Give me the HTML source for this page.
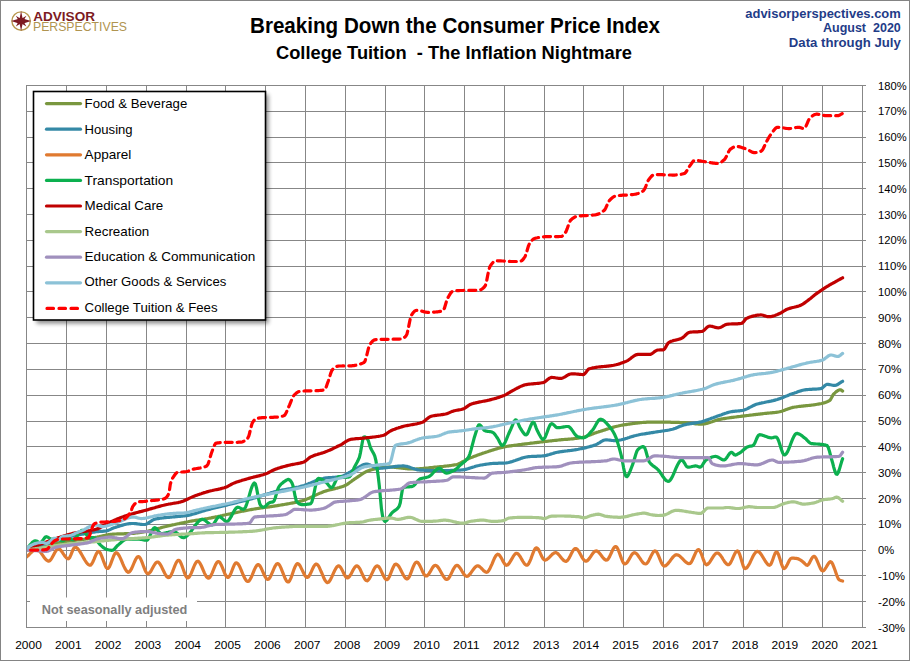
<!DOCTYPE html><html><head><meta charset="utf-8"><style>html,body{margin:0;padding:0;background:#fff}svg{display:block}</style></head><body><svg width="910" height="661" viewBox="0 0 910 661" font-family="Liberation Sans, sans-serif">
<defs><filter id="sh" x="-10%" y="-10%" width="130%" height="130%"><feGaussianBlur stdDeviation="2"/></filter></defs>
<rect x="0.5" y="0.5" width="909" height="660" fill="#fff" stroke="#848484" stroke-width="1"/>
<path d="M26.5 85.0V628.0M66.5 85.0V628.0M106.5 85.0V628.0M146.5 85.0V628.0M186.5 85.0V628.0M225.5 85.0V628.0M265.5 85.0V628.0M305.5 85.0V628.0M345.5 85.0V628.0M385.5 85.0V628.0M424.5 85.0V628.0M464.5 85.0V628.0M504.5 85.0V628.0M544.5 85.0V628.0M583.5 85.0V628.0M623.5 85.0V628.0M663.5 85.0V628.0M703.5 85.0V628.0M743.5 85.0V628.0M782.5 85.0V628.0M822.5 85.0V628.0M862.5 85.0V628.0M26.0 85.5H865.5M26.0 111.5H865.5M26.0 137.5H865.5M26.0 162.5H865.5M26.0 188.5H865.5M26.0 214.5H865.5M26.0 240.5H865.5M26.0 266.5H865.5M26.0 291.5H865.5M26.0 317.5H865.5M26.0 343.5H865.5M26.0 369.5H865.5M26.0 395.5H865.5M26.0 421.5H865.5M26.0 446.5H865.5M26.0 472.5H865.5M26.0 498.5H865.5M26.0 524.5H865.5M26.0 550.5H865.5M26.0 575.5H865.5M26.0 601.5H865.5M26.0 627.5H865.5" stroke="#878787" stroke-width="1" fill="none" shape-rendering="crispEdges"/>
<text x="878.1" y="89.5" font-size="11.3" fill="#000" textLength="28.6" lengthAdjust="spacingAndGlyphs">180%</text>
<text x="878.1" y="115.3" font-size="11.3" fill="#000" textLength="28.6" lengthAdjust="spacingAndGlyphs">170%</text>
<text x="878.1" y="141.1" font-size="11.3" fill="#000" textLength="28.6" lengthAdjust="spacingAndGlyphs">160%</text>
<text x="878.1" y="166.9" font-size="11.3" fill="#000" textLength="28.6" lengthAdjust="spacingAndGlyphs">150%</text>
<text x="878.1" y="192.7" font-size="11.3" fill="#000" textLength="28.6" lengthAdjust="spacingAndGlyphs">140%</text>
<text x="878.1" y="218.5" font-size="11.3" fill="#000" textLength="28.6" lengthAdjust="spacingAndGlyphs">130%</text>
<text x="878.1" y="244.4" font-size="11.3" fill="#000" textLength="28.6" lengthAdjust="spacingAndGlyphs">120%</text>
<text x="878.1" y="270.2" font-size="11.3" fill="#000" textLength="28.6" lengthAdjust="spacingAndGlyphs">110%</text>
<text x="878.1" y="296.0" font-size="11.3" fill="#000" textLength="28.6" lengthAdjust="spacingAndGlyphs">100%</text>
<text x="878.1" y="321.8" font-size="11.3" fill="#000" textLength="23.3" lengthAdjust="spacingAndGlyphs">90%</text>
<text x="878.1" y="347.6" font-size="11.3" fill="#000" textLength="23.3" lengthAdjust="spacingAndGlyphs">80%</text>
<text x="878.1" y="373.4" font-size="11.3" fill="#000" textLength="23.3" lengthAdjust="spacingAndGlyphs">70%</text>
<text x="878.1" y="399.2" font-size="11.3" fill="#000" textLength="23.3" lengthAdjust="spacingAndGlyphs">60%</text>
<text x="878.1" y="425.0" font-size="11.3" fill="#000" textLength="23.3" lengthAdjust="spacingAndGlyphs">50%</text>
<text x="878.1" y="450.8" font-size="11.3" fill="#000" textLength="23.3" lengthAdjust="spacingAndGlyphs">40%</text>
<text x="878.1" y="476.6" font-size="11.3" fill="#000" textLength="23.3" lengthAdjust="spacingAndGlyphs">30%</text>
<text x="878.1" y="502.5" font-size="11.3" fill="#000" textLength="23.3" lengthAdjust="spacingAndGlyphs">20%</text>
<text x="878.1" y="528.3" font-size="11.3" fill="#000" textLength="23.3" lengthAdjust="spacingAndGlyphs">10%</text>
<text x="878.1" y="554.1" font-size="11.3" fill="#000" textLength="16.2" lengthAdjust="spacingAndGlyphs">0%</text>
<text x="878.1" y="579.9" font-size="11.3" fill="#000" textLength="27.0" lengthAdjust="spacingAndGlyphs">-10%</text>
<text x="878.1" y="605.7" font-size="11.3" fill="#000" textLength="27.0" lengthAdjust="spacingAndGlyphs">-20%</text>
<text x="878.1" y="631.5" font-size="11.3" fill="#000" textLength="27.0" lengthAdjust="spacingAndGlyphs">-30%</text>
<text x="15.2" y="648.8" font-size="11.3" fill="#000" textLength="26.6" lengthAdjust="spacingAndGlyphs">2000</text>
<text x="55.0" y="648.8" font-size="11.3" fill="#000" textLength="26.6" lengthAdjust="spacingAndGlyphs">2001</text>
<text x="94.8" y="648.8" font-size="11.3" fill="#000" textLength="26.6" lengthAdjust="spacingAndGlyphs">2002</text>
<text x="134.6" y="648.8" font-size="11.3" fill="#000" textLength="26.6" lengthAdjust="spacingAndGlyphs">2003</text>
<text x="174.4" y="648.8" font-size="11.3" fill="#000" textLength="26.6" lengthAdjust="spacingAndGlyphs">2004</text>
<text x="214.2" y="648.8" font-size="11.3" fill="#000" textLength="26.6" lengthAdjust="spacingAndGlyphs">2005</text>
<text x="254.1" y="648.8" font-size="11.3" fill="#000" textLength="26.6" lengthAdjust="spacingAndGlyphs">2006</text>
<text x="293.9" y="648.8" font-size="11.3" fill="#000" textLength="26.6" lengthAdjust="spacingAndGlyphs">2007</text>
<text x="333.7" y="648.8" font-size="11.3" fill="#000" textLength="26.6" lengthAdjust="spacingAndGlyphs">2008</text>
<text x="373.5" y="648.8" font-size="11.3" fill="#000" textLength="26.6" lengthAdjust="spacingAndGlyphs">2009</text>
<text x="413.3" y="648.8" font-size="11.3" fill="#000" textLength="26.6" lengthAdjust="spacingAndGlyphs">2010</text>
<text x="453.1" y="648.8" font-size="11.3" fill="#000" textLength="26.6" lengthAdjust="spacingAndGlyphs">2011</text>
<text x="492.9" y="648.8" font-size="11.3" fill="#000" textLength="26.6" lengthAdjust="spacingAndGlyphs">2012</text>
<text x="532.7" y="648.8" font-size="11.3" fill="#000" textLength="26.6" lengthAdjust="spacingAndGlyphs">2013</text>
<text x="572.5" y="648.8" font-size="11.3" fill="#000" textLength="26.6" lengthAdjust="spacingAndGlyphs">2014</text>
<text x="612.3" y="648.8" font-size="11.3" fill="#000" textLength="26.6" lengthAdjust="spacingAndGlyphs">2015</text>
<text x="652.2" y="648.8" font-size="11.3" fill="#000" textLength="26.6" lengthAdjust="spacingAndGlyphs">2016</text>
<text x="692.0" y="648.8" font-size="11.3" fill="#000" textLength="26.6" lengthAdjust="spacingAndGlyphs">2017</text>
<text x="731.8" y="648.8" font-size="11.3" fill="#000" textLength="26.6" lengthAdjust="spacingAndGlyphs">2018</text>
<text x="771.6" y="648.8" font-size="11.3" fill="#000" textLength="26.6" lengthAdjust="spacingAndGlyphs">2019</text>
<text x="811.4" y="648.8" font-size="11.3" fill="#000" textLength="26.6" lengthAdjust="spacingAndGlyphs">2020</text>
<text x="851.2" y="648.8" font-size="11.3" fill="#000" textLength="26.6" lengthAdjust="spacingAndGlyphs">2021</text>
<clipPath id="pc"><rect x="27" y="80" width="840" height="550"/></clipPath><g clip-path="url(#pc)"><path d="M26.5 550.1 27.6 549.8 28.7 549.6 29.8 549.3 30.9 549.1 32.0 548.8 33.1 548.6 34.2 548.3 35.3 548.1 36.5 547.8 37.6 547.6 38.7 547.3 39.8 547.1 40.9 546.8 42.0 546.5 43.1 546.3 44.2 546.0 45.3 545.8 46.4 545.5 47.5 545.3 48.6 545.0 49.7 544.8 50.8 544.5 51.9 544.3 53.0 544.0 54.1 543.8 55.3 543.6 56.4 543.3 57.5 543.1 58.6 542.9 59.7 542.7 60.8 542.5 61.9 542.2 63.0 542.0 64.1 541.9 65.2 541.7 66.3 541.5 67.4 541.3 68.5 541.1 69.6 541.0 70.7 540.8 71.8 540.7 72.9 540.5 74.1 540.4 75.2 540.3 76.3 540.2 77.4 540.0 78.5 539.9 79.6 539.8 80.7 539.7 81.8 539.5 82.9 539.4 84.0 539.3 85.1 539.1 86.2 539.0 87.3 538.9 88.4 538.7 89.5 538.6 90.6 538.4 91.7 538.2 92.8 538.0 94.0 537.8 95.1 537.6 96.2 537.3 97.3 537.1 98.4 536.8 99.5 536.6 100.6 536.3 101.7 536.1 102.8 535.8 103.9 535.6 105.0 535.4 106.1 535.1 107.2 534.9 108.3 534.7 109.4 534.6 110.5 534.4 111.6 534.3 112.8 534.2 113.9 534.1 115.0 534.0 116.1 534.0 117.2 533.9 118.3 533.9 119.4 533.9 120.5 533.8 121.6 533.8 122.7 533.8 123.8 533.8 124.9 533.7 126.0 533.7 127.1 533.7 128.2 533.6 129.3 533.6 130.4 533.5 131.6 533.5 132.7 533.4 133.8 533.3 134.9 533.2 136.0 533.0 137.1 532.9 138.2 532.8 139.3 532.6 140.4 532.4 141.5 532.3 142.6 532.1 143.7 531.9 144.8 531.7 145.9 531.6 147.0 531.4 148.1 531.2 149.2 530.9 150.4 530.7 151.5 530.4 152.6 530.1 153.7 529.8 154.8 529.5 155.9 529.2 157.0 528.9 158.1 528.6 159.2 528.3 160.3 528.0 161.4 527.6 162.5 527.3 163.6 527.0 164.7 526.7 165.8 526.5 166.9 526.2 168.0 525.9 169.2 525.7 170.3 525.4 171.4 525.2 172.5 524.9 173.6 524.7 174.7 524.5 175.8 524.2 176.9 524.0 178.0 523.8 179.1 523.6 180.2 523.3 181.3 523.1 182.4 522.9 183.5 522.7 184.6 522.4 185.7 522.2 186.8 522.0 187.9 521.8 189.1 521.5 190.2 521.3 191.3 521.1 192.4 520.9 193.5 520.7 194.6 520.5 195.7 520.3 196.8 520.2 197.9 520.0 199.0 519.9 200.1 519.7 201.2 519.6 202.3 519.4 203.4 519.3 204.5 519.1 205.6 518.9 206.7 518.7 207.9 518.5 209.0 518.3 210.1 518.1 211.2 517.9 212.3 517.6 213.4 517.4 214.5 517.2 215.6 516.9 216.7 516.7 217.8 516.5 218.9 516.2 220.0 516.0 221.1 515.7 222.2 515.5 223.3 515.2 224.4 515.0 225.5 514.8 226.7 514.5 227.8 514.3 228.9 514.1 230.0 513.9 231.1 513.6 232.2 513.4 233.3 513.2 234.4 512.9 235.5 512.7 236.6 512.5 237.7 512.2 238.8 512.0 239.9 511.8 241.0 511.5 242.1 511.3 243.2 511.1 244.3 510.8 245.5 510.6 246.6 510.4 247.7 510.2 248.8 510.0 249.9 509.8 251.0 509.6 252.1 509.4 253.2 509.2 254.3 509.0 255.4 508.8 256.5 508.7 257.6 508.5 258.7 508.3 259.8 508.2 260.9 508.0 262.0 507.9 263.1 507.7 264.3 507.5 265.4 507.4 266.5 507.2 267.6 507.1 268.7 506.9 269.8 506.8 270.9 506.6 272.0 506.4 273.1 506.3 274.2 506.1 275.3 505.9 276.4 505.8 277.5 505.6 278.6 505.4 279.7 505.2 280.8 505.0 281.9 504.8 283.1 504.7 284.2 504.5 285.3 504.3 286.4 504.1 287.5 503.9 288.6 503.7 289.7 503.5 290.8 503.3 291.9 503.1 293.0 502.9 294.1 502.7 295.2 502.4 296.3 502.2 297.4 502.0 298.5 501.7 299.6 501.4 300.7 501.1 301.8 500.9 303.0 500.5 304.1 500.2 305.2 499.8 306.3 499.4 307.4 498.9 308.5 498.4 309.6 498.0 310.7 497.5 311.8 497.0 312.9 496.5 314.0 495.9 315.1 495.4 316.2 494.9 317.3 494.4 318.4 493.9 319.5 493.4 320.6 492.9 321.8 492.5 322.9 492.0 324.0 491.6 325.1 491.2 326.2 490.9 327.3 490.5 328.4 490.2 329.5 489.9 330.6 489.7 331.7 489.4 332.8 489.1 333.9 488.9 335.0 488.6 336.1 488.3 337.2 488.1 338.3 487.8 339.4 487.5 340.6 487.1 341.7 486.8 342.8 486.4 343.9 486.0 345.0 485.5 346.1 485.0 347.2 484.4 348.3 483.6 349.4 482.8 350.5 482.0 351.6 481.2 352.7 480.3 353.8 479.6 354.9 478.8 356.0 478.1 357.1 477.4 358.2 476.6 359.4 475.8 360.5 475.1 361.6 474.3 362.7 473.6 363.8 472.9 364.9 472.3 366.0 471.7 367.1 471.2 368.2 470.8 369.3 470.4 370.4 470.1 371.5 469.8 372.6 469.5 373.7 469.2 374.8 468.9 375.9 468.7 377.0 468.4 378.2 468.2 379.3 467.9 380.4 467.7 381.5 467.5 382.6 467.4 383.7 467.2 384.8 467.1 385.9 467.0 387.0 467.0 388.1 467.0 389.2 467.0 390.3 467.0 391.4 467.1 392.5 467.1 393.6 467.2 394.7 467.3 395.8 467.4 396.9 467.6 398.1 467.7 399.2 467.8 400.3 468.0 401.4 468.1 402.5 468.2 403.6 468.4 404.7 468.5 405.8 468.6 406.9 468.7 408.0 468.8 409.1 468.9 410.2 469.0 411.3 469.0 412.4 469.0 413.5 469.0 414.6 469.0 415.7 469.0 416.9 468.9 418.0 468.9 419.1 468.8 420.2 468.7 421.3 468.6 422.4 468.5 423.5 468.4 424.6 468.3 425.7 468.2 426.8 468.1 427.9 468.0 429.0 467.8 430.1 467.7 431.2 467.6 432.3 467.5 433.4 467.3 434.5 467.2 435.7 467.1 436.8 467.0 437.9 466.9 439.0 466.8 440.1 466.7 441.2 466.6 442.3 466.5 443.4 466.4 444.5 466.2 445.6 466.1 446.7 466.0 447.8 465.9 448.9 465.8 450.0 465.6 451.1 465.5 452.2 465.3 453.3 465.1 454.5 464.9 455.6 464.7 456.7 464.5 457.8 464.2 458.9 463.7 460.0 463.2 461.1 462.6 462.2 462.0 463.3 461.4 464.4 460.8 465.5 460.1 466.6 459.5 467.7 459.0 468.8 458.5 469.9 458.1 471.0 457.6 472.1 457.2 473.3 456.7 474.4 456.3 475.5 455.9 476.6 455.5 477.7 455.1 478.8 454.7 479.9 454.3 481.0 453.9 482.1 453.5 483.2 453.1 484.3 452.8 485.4 452.4 486.5 452.0 487.6 451.7 488.7 451.3 489.8 450.9 490.9 450.6 492.1 450.2 493.2 449.9 494.3 449.5 495.4 449.2 496.5 448.9 497.6 448.5 498.7 448.2 499.8 447.9 500.9 447.6 502.0 447.4 503.1 447.1 504.2 446.9 505.3 446.7 506.4 446.5 507.5 446.3 508.6 446.1 509.7 445.9 510.8 445.8 512.0 445.6 513.1 445.5 514.2 445.3 515.3 445.2 516.4 445.0 517.5 444.9 518.6 444.7 519.7 444.6 520.8 444.5 521.9 444.3 523.0 444.2 524.1 444.1 525.2 443.9 526.3 443.8 527.4 443.7 528.5 443.5 529.6 443.4 530.8 443.2 531.9 443.1 533.0 443.0 534.1 442.8 535.2 442.7 536.3 442.6 537.4 442.4 538.5 442.3 539.6 442.2 540.7 442.0 541.8 441.9 542.9 441.8 544.0 441.6 545.1 441.5 546.2 441.4 547.3 441.3 548.4 441.1 549.6 441.0 550.7 440.9 551.8 440.8 552.9 440.6 554.0 440.5 555.1 440.4 556.2 440.3 557.3 440.2 558.4 440.0 559.5 439.9 560.6 439.8 561.7 439.7 562.8 439.6 563.9 439.5 565.0 439.4 566.1 439.4 567.2 439.3 568.4 439.2 569.5 439.1 570.6 439.0 571.7 438.9 572.8 438.8 573.9 438.7 575.0 438.5 576.1 438.4 577.2 438.3 578.3 438.1 579.4 438.0 580.5 437.8 581.6 437.6 582.7 437.4 583.8 437.1 584.9 436.8 586.0 436.4 587.2 436.0 588.3 435.6 589.4 435.2 590.5 434.8 591.6 434.4 592.7 433.9 593.8 433.5 594.9 433.1 596.0 432.7 597.1 432.3 598.2 432.0 599.3 431.6 600.4 431.3 601.5 430.9 602.6 430.6 603.7 430.2 604.8 429.9 605.9 429.5 607.1 429.1 608.2 428.8 609.3 428.4 610.4 428.1 611.5 427.8 612.6 427.4 613.7 427.1 614.8 426.8 615.9 426.5 617.0 426.2 618.1 426.0 619.2 425.7 620.3 425.5 621.4 425.3 622.5 425.1 623.6 424.9 624.7 424.7 625.9 424.6 627.0 424.4 628.1 424.2 629.2 424.1 630.3 423.9 631.4 423.8 632.5 423.6 633.6 423.5 634.7 423.3 635.8 423.2 636.9 423.1 638.0 422.9 639.1 422.8 640.2 422.7 641.3 422.6 642.4 422.5 643.5 422.4 644.7 422.3 645.8 422.3 646.9 422.2 648.0 422.1 649.1 422.1 650.2 422.1 651.3 422.1 652.4 422.1 653.5 422.1 654.6 422.1 655.7 422.1 656.8 422.1 657.9 422.1 659.0 422.1 660.1 422.1 661.2 422.1 662.3 422.1 663.5 422.1 664.6 422.1 665.7 422.2 666.8 422.2 667.9 422.2 669.0 422.2 670.1 422.2 671.2 422.3 672.3 422.3 673.4 422.3 674.5 422.3 675.6 422.4 676.7 422.4 677.8 422.4 678.9 422.4 680.0 422.5 681.1 422.5 682.3 422.5 683.4 422.6 684.5 422.6 685.6 422.7 686.7 422.8 687.8 422.9 688.9 423.0 690.0 423.1 691.1 423.3 692.2 423.4 693.3 423.5 694.4 423.7 695.5 423.8 696.6 423.9 697.7 424.0 698.8 424.1 699.9 424.1 701.1 424.1 702.2 424.1 703.3 424.0 704.4 423.9 705.5 423.6 706.6 423.4 707.7 423.1 708.8 422.8 709.9 422.4 711.0 422.0 712.1 421.7 713.2 421.3 714.3 420.9 715.4 420.5 716.5 420.2 717.6 419.9 718.7 419.6 719.8 419.3 721.0 419.1 722.1 418.9 723.2 418.7 724.3 418.6 725.4 418.4 726.5 418.2 727.6 418.0 728.7 417.9 729.8 417.7 730.9 417.6 732.0 417.4 733.1 417.3 734.2 417.2 735.3 417.0 736.4 416.9 737.5 416.7 738.6 416.6 739.8 416.5 740.9 416.3 742.0 416.2 743.1 416.1 744.2 415.9 745.3 415.8 746.4 415.6 747.5 415.5 748.6 415.4 749.7 415.2 750.8 415.1 751.9 415.0 753.0 414.8 754.1 414.7 755.2 414.6 756.3 414.4 757.4 414.3 758.6 414.2 759.7 414.1 760.8 413.9 761.9 413.8 763.0 413.7 764.1 413.5 765.2 413.4 766.3 413.3 767.4 413.2 768.5 413.1 769.6 413.0 770.7 412.9 771.8 412.8 772.9 412.7 774.0 412.6 775.1 412.5 776.2 412.3 777.4 412.2 778.5 412.0 779.6 411.8 780.7 411.5 781.8 411.2 782.9 410.8 784.0 410.4 785.1 410.0 786.2 409.6 787.3 409.2 788.4 408.8 789.5 408.4 790.6 408.0 791.7 407.7 792.8 407.4 793.9 407.2 795.0 407.0 796.2 406.9 797.3 406.7 798.4 406.5 799.5 406.4 800.6 406.3 801.7 406.2 802.8 406.1 803.9 405.9 805.0 405.8 806.1 405.7 807.2 405.6 808.3 405.5 809.4 405.4 810.5 405.3 811.6 405.1 812.7 405.0 813.8 404.8 814.9 404.7 816.1 404.5 817.2 404.3 818.3 404.1 819.4 403.9 820.5 403.7 821.6 403.5 822.7 403.2 823.8 402.9 824.9 402.6 826.0 402.2 827.1 401.8 828.2 401.3 829.3 400.7 830.4 399.7 831.5 397.8 832.6 395.7 833.7 393.9 834.9 392.9 836.0 391.9 837.1 391.1 838.2 390.4 839.3 389.9 840.4 389.8 841.5 390.3 842.6 391.1" stroke="#79973f" stroke-width="3.2" stroke-linecap="round" stroke-linejoin="round" fill="none"/>
<path d="M26.5 550.1 27.6 549.7 28.7 549.4 29.8 549.0 30.9 548.6 32.0 548.3 33.1 547.9 34.2 547.5 35.3 547.2 36.5 546.8 37.6 546.5 38.7 546.1 39.8 545.7 40.9 545.4 42.0 545.0 43.1 544.7 44.2 544.3 45.3 544.0 46.4 543.6 47.5 543.3 48.6 542.9 49.7 542.6 50.8 542.2 51.9 541.8 53.0 541.5 54.1 541.1 55.3 540.7 56.4 540.4 57.5 540.0 58.6 539.7 59.7 539.3 60.8 539.0 61.9 538.7 63.0 538.3 64.1 538.0 65.2 537.7 66.3 537.5 67.4 537.2 68.5 536.9 69.6 536.7 70.7 536.4 71.8 536.2 72.9 536.0 74.1 535.8 75.2 535.5 76.3 535.3 77.4 535.1 78.5 534.9 79.6 534.7 80.7 534.5 81.8 534.3 82.9 534.1 84.0 533.9 85.1 533.7 86.2 533.5 87.3 533.3 88.4 533.1 89.5 532.9 90.6 532.7 91.7 532.4 92.8 532.2 94.0 532.1 95.1 531.9 96.2 531.7 97.3 531.6 98.4 531.6 99.5 531.5 100.6 531.4 101.7 531.4 102.8 531.3 103.9 531.2 105.0 531.1 106.1 531.0 107.2 530.7 108.3 530.4 109.4 529.9 110.5 529.4 111.6 528.8 112.8 528.3 113.9 527.8 115.0 527.5 116.1 527.1 117.2 526.8 118.3 526.4 119.4 526.1 120.5 525.7 121.6 525.4 122.7 525.1 123.8 524.8 124.9 524.5 126.0 524.2 127.1 524.0 128.2 523.8 129.3 523.7 130.4 523.6 131.6 523.5 132.7 523.5 133.8 523.5 134.9 523.6 136.0 523.7 137.1 523.8 138.2 524.0 139.3 524.1 140.4 524.3 141.5 524.4 142.6 524.5 143.7 524.5 144.8 524.5 145.9 524.2 147.0 523.8 148.1 523.1 149.2 522.4 150.4 521.6 151.5 520.9 152.6 520.2 153.7 519.6 154.8 519.2 155.9 518.9 157.0 518.7 158.1 518.6 159.2 518.4 160.3 518.2 161.4 518.1 162.5 518.0 163.6 517.8 164.7 517.7 165.8 517.6 166.9 517.5 168.0 517.4 169.2 517.3 170.3 517.2 171.4 517.1 172.5 517.0 173.6 516.9 174.7 516.8 175.8 516.7 176.9 516.6 178.0 516.5 179.1 516.4 180.2 516.3 181.3 516.2 182.4 516.1 183.5 516.0 184.6 515.9 185.7 515.7 186.8 515.6 187.9 515.4 189.1 515.1 190.2 514.9 191.3 514.6 192.4 514.3 193.5 514.0 194.6 513.7 195.7 513.4 196.8 513.0 197.9 512.7 199.0 512.3 200.1 511.9 201.2 511.6 202.3 511.2 203.4 510.9 204.5 510.6 205.6 510.3 206.7 510.0 207.9 509.7 209.0 509.4 210.1 509.1 211.2 508.8 212.3 508.5 213.4 508.3 214.5 508.0 215.6 507.7 216.7 507.5 217.8 507.2 218.9 506.9 220.0 506.7 221.1 506.4 222.2 506.1 223.3 505.9 224.4 505.6 225.5 505.3 226.7 505.1 227.8 504.8 228.9 504.5 230.0 504.2 231.1 504.0 232.2 503.7 233.3 503.4 234.4 503.1 235.5 502.9 236.6 502.6 237.7 502.3 238.8 502.0 239.9 501.8 241.0 501.5 242.1 501.2 243.2 500.9 244.3 500.6 245.5 500.4 246.6 500.1 247.7 499.8 248.8 499.5 249.9 499.2 251.0 498.9 252.1 498.6 253.2 498.3 254.3 498.0 255.4 497.7 256.5 497.3 257.6 497.0 258.7 496.6 259.8 496.3 260.9 496.0 262.0 495.6 263.1 495.2 264.3 494.9 265.4 494.5 266.5 494.2 267.6 493.9 268.7 493.5 269.8 493.2 270.9 492.8 272.0 492.5 273.1 492.2 274.2 491.9 275.3 491.6 276.4 491.3 277.5 491.1 278.6 490.8 279.7 490.6 280.8 490.4 281.9 490.1 283.1 489.9 284.2 489.7 285.3 489.5 286.4 489.3 287.5 489.1 288.6 488.9 289.7 488.7 290.8 488.5 291.9 488.3 293.0 488.1 294.1 487.9 295.2 487.7 296.3 487.4 297.4 487.2 298.5 487.0 299.6 486.7 300.7 486.4 301.8 486.1 303.0 485.8 304.1 485.5 305.2 485.1 306.3 484.7 307.4 484.2 308.5 483.8 309.6 483.3 310.7 482.9 311.8 482.4 312.9 481.9 314.0 481.5 315.1 481.0 316.2 480.6 317.3 480.1 318.4 479.7 319.5 479.4 320.6 479.0 321.8 478.7 322.9 478.5 324.0 478.2 325.1 478.1 326.2 477.9 327.3 477.8 328.4 477.7 329.5 477.6 330.6 477.6 331.7 477.5 332.8 477.4 333.9 477.4 335.0 477.3 336.1 477.2 337.2 477.1 338.3 477.0 339.4 476.8 340.6 476.6 341.7 476.3 342.8 476.0 343.9 475.5 345.0 475.0 346.1 474.4 347.2 473.7 348.3 473.1 349.4 472.4 350.5 471.8 351.6 471.1 352.7 470.5 353.8 469.9 354.9 469.4 356.0 468.8 357.1 468.1 358.2 467.5 359.4 466.8 360.5 466.2 361.6 465.6 362.7 465.0 363.8 464.6 364.9 464.3 366.0 464.1 367.1 464.2 368.2 464.3 369.3 464.7 370.4 465.1 371.5 465.6 372.6 466.2 373.7 466.7 374.8 467.2 375.9 467.7 377.0 468.0 378.2 468.2 379.3 468.3 380.4 468.2 381.5 468.2 382.6 468.1 383.7 468.0 384.8 467.9 385.9 467.8 387.0 467.6 388.1 467.5 389.2 467.3 390.3 467.2 391.4 467.0 392.5 466.9 393.6 466.7 394.7 466.6 395.8 466.4 396.9 466.3 398.1 466.2 399.2 466.1 400.3 466.0 401.4 466.0 402.5 465.9 403.6 465.9 404.7 466.0 405.8 466.2 406.9 466.4 408.0 466.7 409.1 467.1 410.2 467.5 411.3 467.9 412.4 468.3 413.5 468.6 414.6 469.0 415.7 469.3 416.9 469.6 418.0 469.9 419.1 470.0 420.2 470.1 421.3 470.1 422.4 470.2 423.5 470.2 424.6 470.3 425.7 470.3 426.8 470.3 427.9 470.4 429.0 470.4 430.1 470.4 431.2 470.5 432.3 470.5 433.4 470.5 434.5 470.5 435.7 470.5 436.8 470.5 437.9 470.6 439.0 470.6 440.1 470.6 441.2 470.6 442.3 470.6 443.4 470.6 444.5 470.6 445.6 470.6 446.7 470.5 447.8 470.5 448.9 470.5 450.0 470.5 451.1 470.4 452.2 470.4 453.3 470.4 454.5 470.3 455.6 470.3 456.7 470.2 457.8 470.2 458.9 470.2 460.0 470.1 461.1 470.0 462.2 469.9 463.3 469.8 464.4 469.6 465.5 469.4 466.6 469.1 467.7 468.8 468.8 468.4 469.9 468.1 471.0 467.7 472.1 467.4 473.3 467.0 474.4 466.7 475.5 466.3 476.6 466.0 477.7 465.7 478.8 465.5 479.9 465.2 481.0 465.0 482.1 464.9 483.2 464.7 484.3 464.5 485.4 464.3 486.5 464.2 487.6 464.0 488.7 463.9 489.8 463.7 490.9 463.6 492.1 463.5 493.2 463.4 494.3 463.4 495.4 463.3 496.5 463.3 497.6 463.3 498.7 463.2 499.8 463.2 500.9 463.2 502.0 463.2 503.1 463.1 504.2 463.1 505.3 463.0 506.4 462.9 507.5 462.7 508.6 462.5 509.7 462.2 510.8 461.9 512.0 461.6 513.1 461.2 514.2 460.8 515.3 460.5 516.4 460.1 517.5 459.7 518.6 459.3 519.7 458.9 520.8 458.5 521.9 458.1 523.0 457.8 524.1 457.5 525.2 457.2 526.3 457.0 527.4 456.8 528.5 456.7 529.6 456.6 530.8 456.5 531.9 456.4 533.0 456.4 534.1 456.3 535.2 456.3 536.3 456.3 537.4 456.2 538.5 456.2 539.6 456.1 540.7 456.1 541.8 456.0 542.9 455.9 544.0 455.8 545.1 455.6 546.2 455.4 547.3 455.1 548.4 454.8 549.6 454.5 550.7 454.1 551.8 453.8 552.9 453.5 554.0 453.1 555.1 452.8 556.2 452.5 557.3 452.3 558.4 452.1 559.5 451.9 560.6 451.7 561.7 451.6 562.8 451.4 563.9 451.3 565.0 451.1 566.1 451.0 567.2 450.9 568.4 450.7 569.5 450.6 570.6 450.5 571.7 450.3 572.8 450.2 573.9 450.0 575.0 449.8 576.1 449.7 577.2 449.5 578.3 449.3 579.4 449.0 580.5 448.8 581.6 448.6 582.7 448.4 583.8 448.1 584.9 447.9 586.0 447.6 587.2 447.3 588.3 447.0 589.4 446.7 590.5 446.4 591.6 446.1 592.7 445.8 593.8 445.4 594.9 445.1 596.0 444.6 597.1 444.1 598.2 443.4 599.3 442.8 600.4 442.1 601.5 441.4 602.6 440.8 603.7 440.3 604.8 440.0 605.9 439.9 607.1 439.9 608.2 440.0 609.3 440.1 610.4 440.2 611.5 440.4 612.6 440.5 613.7 440.6 614.8 440.6 615.9 440.6 617.0 440.5 618.1 440.4 619.2 440.2 620.3 440.0 621.4 439.8 622.5 439.5 623.6 439.2 624.7 438.9 625.9 438.5 627.0 438.2 628.1 437.8 629.2 437.5 630.3 437.1 631.4 436.7 632.5 436.4 633.6 436.1 634.7 435.7 635.8 435.5 636.9 435.2 638.0 435.0 639.1 434.7 640.2 434.5 641.3 434.3 642.4 434.1 643.5 434.0 644.7 433.8 645.8 433.6 646.9 433.4 648.0 433.3 649.1 433.1 650.2 432.9 651.3 432.7 652.4 432.6 653.5 432.4 654.6 432.2 655.7 432.0 656.8 431.8 657.9 431.7 659.0 431.5 660.1 431.4 661.2 431.2 662.3 431.0 663.5 430.9 664.6 430.7 665.7 430.5 666.8 430.4 667.9 430.2 669.0 430.0 670.1 429.7 671.2 429.5 672.3 429.3 673.4 429.0 674.5 428.6 675.6 428.2 676.7 427.7 677.8 427.3 678.9 426.8 680.0 426.3 681.1 425.9 682.3 425.5 683.4 425.1 684.5 424.8 685.6 424.6 686.7 424.3 687.8 424.1 688.9 423.9 690.0 423.8 691.1 423.6 692.2 423.4 693.3 423.2 694.4 423.1 695.5 422.9 696.6 422.7 697.7 422.5 698.8 422.3 699.9 422.1 701.1 421.9 702.2 421.6 703.3 421.2 704.4 420.9 705.5 420.5 706.6 420.1 707.7 419.7 708.8 419.3 709.9 418.9 711.0 418.4 712.1 418.0 713.2 417.7 714.3 417.3 715.4 416.9 716.5 416.5 717.6 416.1 718.7 415.7 719.8 415.3 721.0 414.9 722.1 414.5 723.2 414.1 724.3 413.7 725.4 413.3 726.5 413.0 727.6 412.6 728.7 412.3 729.8 412.0 730.9 411.8 732.0 411.6 733.1 411.4 734.2 411.3 735.3 411.2 736.4 411.1 737.5 411.0 738.6 410.9 739.8 410.8 740.9 410.6 742.0 410.5 743.1 410.3 744.2 410.0 745.3 409.6 746.4 409.1 747.5 408.6 748.6 408.0 749.7 407.4 750.8 406.9 751.9 406.3 753.0 405.7 754.1 405.2 755.2 404.7 756.3 404.3 757.4 404.0 758.6 403.7 759.7 403.4 760.8 403.2 761.9 402.9 763.0 402.7 764.1 402.5 765.2 402.2 766.3 402.0 767.4 401.8 768.5 401.6 769.6 401.4 770.7 401.2 771.8 400.9 772.9 400.7 774.0 400.4 775.1 400.1 776.2 399.8 777.4 399.5 778.5 399.1 779.6 398.7 780.7 398.3 781.8 397.9 782.9 397.5 784.0 397.0 785.1 396.6 786.2 396.1 787.3 395.7 788.4 395.2 789.5 394.8 790.6 394.3 791.7 393.9 792.8 393.5 793.9 393.2 795.0 392.8 796.2 392.4 797.3 392.0 798.4 391.6 799.5 391.2 800.6 390.9 801.7 390.5 802.8 390.2 803.9 390.0 805.0 389.8 806.1 389.7 807.2 389.6 808.3 389.5 809.4 389.4 810.5 389.3 811.6 389.3 812.7 389.2 813.8 389.2 814.9 389.1 816.1 389.1 817.2 389.0 818.3 388.9 819.4 388.8 820.5 388.6 821.6 388.4 822.7 387.6 823.8 386.6 824.9 385.5 826.0 384.7 827.1 384.4 828.2 384.4 829.3 384.6 830.4 384.8 831.5 385.0 832.6 385.2 833.7 385.4 834.9 385.4 836.0 385.2 837.1 384.8 838.2 384.1 839.3 383.4 840.4 382.7 841.5 381.9 842.6 381.3" stroke="#3489a6" stroke-width="3.2" stroke-linecap="round" stroke-linejoin="round" fill="none"/>
<path d="M26.5 557.0 27.6 556.1 28.7 555.0 29.8 553.9 30.9 552.7 32.0 551.7 33.1 550.7 34.2 550.0 35.3 549.5 36.5 549.3 37.6 549.6 38.7 550.3 39.8 551.4 40.9 552.8 42.0 554.3 43.1 555.9 44.2 557.5 45.3 558.9 46.4 560.0 47.5 560.8 48.6 561.2 49.7 560.8 50.8 559.7 51.9 558.0 53.0 556.0 54.1 553.9 55.3 551.8 56.4 550.2 57.5 549.1 58.6 548.8 59.7 549.3 60.8 550.3 61.9 551.7 63.0 553.3 64.1 555.0 65.2 556.5 66.3 557.8 67.4 558.6 68.5 558.8 69.6 557.7 70.7 555.4 71.8 552.6 72.9 549.9 74.1 547.9 75.2 547.2 76.3 547.6 77.4 548.4 78.5 549.6 79.6 551.1 80.7 552.9 81.8 554.8 82.9 556.7 84.0 558.7 85.1 560.5 86.2 562.2 87.3 563.6 88.4 564.6 89.5 565.2 90.6 565.2 91.7 564.0 92.8 562.0 94.0 559.4 95.1 556.6 96.2 554.1 97.3 552.2 98.4 551.4 99.5 551.9 100.6 553.5 101.7 556.1 102.8 559.1 103.9 562.2 105.0 565.0 106.1 567.3 107.2 568.5 108.3 568.4 109.4 566.9 110.5 564.4 111.6 561.4 112.8 558.2 113.9 555.4 115.0 553.4 116.1 552.7 117.2 553.1 118.3 554.3 119.4 556.1 120.5 558.4 121.6 560.9 122.7 563.6 123.8 566.1 124.9 568.4 126.0 570.3 127.1 571.7 128.2 572.3 129.3 571.9 130.4 570.6 131.6 568.6 132.7 566.1 133.8 563.5 134.9 561.0 136.0 558.8 137.1 557.2 138.2 556.5 139.3 557.0 140.4 558.5 141.5 560.9 142.6 563.7 143.7 566.7 144.8 569.5 145.9 571.9 147.0 573.4 148.1 573.8 149.2 573.2 150.4 571.9 151.5 570.1 152.6 568.1 153.7 566.1 154.8 564.2 155.9 562.8 157.0 562.0 158.1 562.1 159.2 563.0 160.3 564.5 161.4 566.4 162.5 568.7 163.6 571.0 164.7 573.3 165.8 575.2 166.9 576.7 168.0 577.6 169.2 577.5 170.3 576.4 171.4 574.4 172.5 571.8 173.6 569.0 174.7 566.1 175.8 563.5 176.9 561.5 178.0 560.3 179.1 560.3 180.2 561.6 181.3 564.0 182.4 566.9 183.5 570.1 184.6 573.2 185.7 575.8 186.8 577.5 187.9 577.9 189.1 577.1 190.2 575.4 191.3 573.1 192.4 570.4 193.5 567.6 194.6 565.0 195.7 562.9 196.8 561.5 197.9 561.2 199.0 561.9 200.1 563.4 201.2 565.5 202.3 568.0 203.4 570.6 204.5 573.1 205.6 575.4 206.7 577.1 207.9 578.1 209.0 578.1 210.1 577.0 211.2 575.1 212.3 572.6 213.4 569.9 214.5 567.1 215.6 564.6 216.7 562.7 217.8 561.6 218.9 561.6 220.0 562.7 221.1 564.7 222.2 567.2 223.3 569.9 224.4 572.7 225.5 575.0 226.7 576.8 227.8 577.5 228.9 577.0 230.0 575.3 231.1 572.8 232.2 570.0 233.3 567.1 234.4 564.7 235.5 563.1 236.6 562.8 237.7 563.5 238.8 565.0 239.9 567.1 241.0 569.6 242.1 572.3 243.2 575.0 244.3 577.4 245.5 579.5 246.6 580.9 247.7 581.5 248.8 581.2 249.9 579.8 251.0 577.8 252.1 575.3 253.2 572.6 254.3 569.9 255.4 567.6 256.5 565.7 257.6 564.7 258.7 564.7 259.8 565.7 260.9 567.5 262.0 569.9 263.1 572.4 264.3 575.0 265.4 577.2 266.5 578.8 267.6 579.5 268.7 579.1 269.8 577.8 270.9 575.7 272.0 573.2 273.1 570.6 274.2 568.0 275.3 565.8 276.4 564.2 277.5 563.5 278.6 563.9 279.7 565.4 280.8 567.6 281.9 570.3 283.1 573.3 284.2 576.2 285.3 578.8 286.4 580.8 287.5 581.9 288.6 581.9 289.7 580.6 290.8 578.4 291.9 575.5 293.0 572.3 294.1 569.1 295.2 566.4 296.3 564.4 297.4 563.5 298.5 563.9 299.6 565.1 300.7 567.1 301.8 569.4 303.0 571.8 304.1 574.1 305.2 576.0 306.3 577.2 307.4 577.5 308.5 576.8 309.6 575.2 310.7 573.1 311.8 570.6 312.9 568.2 314.0 566.1 315.1 564.6 316.2 564.0 317.3 564.4 318.4 565.8 319.5 567.8 320.6 570.3 321.8 573.0 322.9 575.7 324.0 578.3 325.1 580.4 326.2 581.9 327.3 582.6 328.4 582.3 329.5 581.1 330.6 579.3 331.7 577.1 332.8 574.7 333.9 572.2 335.0 569.9 336.1 567.9 337.2 566.5 338.3 565.8 339.4 566.1 340.6 567.3 341.7 569.2 342.8 571.4 343.9 573.7 345.0 575.7 346.1 577.2 347.2 577.9 348.3 577.6 349.4 576.5 350.5 574.9 351.6 572.9 352.7 570.8 353.8 568.8 354.9 567.2 356.0 566.1 357.1 565.8 358.2 566.5 359.4 568.1 360.5 570.1 361.6 572.6 362.7 575.0 363.8 577.3 364.9 579.2 366.0 580.5 367.1 580.8 368.2 580.1 369.3 578.7 370.4 576.7 371.5 574.4 372.6 572.1 373.7 569.8 374.8 567.8 375.9 566.4 377.0 565.8 378.2 566.2 379.3 567.4 380.4 569.3 381.5 571.6 382.6 574.0 383.7 576.3 384.8 578.2 385.9 579.4 387.0 579.7 388.1 578.9 389.2 577.0 390.3 574.5 391.4 571.7 392.5 568.9 393.6 566.5 394.7 564.7 395.8 564.0 396.9 564.4 398.1 565.4 399.2 567.0 400.3 569.0 401.4 571.2 402.5 573.4 403.6 575.5 404.7 577.2 405.8 578.4 406.9 579.0 408.0 578.5 409.1 577.0 410.2 574.7 411.3 571.9 412.4 568.9 413.5 566.2 414.6 563.9 415.7 562.4 416.9 562.0 418.0 562.7 419.1 564.2 420.2 566.3 421.3 568.7 422.4 571.2 423.5 573.4 424.6 575.1 425.7 576.0 426.8 576.0 427.9 575.1 429.0 573.7 430.1 571.9 431.2 569.9 432.3 568.0 433.4 566.5 434.5 565.5 435.7 565.3 436.8 565.9 437.9 567.0 439.0 568.6 440.1 570.5 441.2 572.5 442.3 574.5 443.4 576.4 444.5 577.9 445.6 579.0 446.7 579.5 447.8 579.1 448.9 578.0 450.0 576.1 451.1 573.9 452.2 571.6 453.3 569.3 454.5 567.4 455.6 565.9 456.7 565.3 457.8 565.6 458.9 566.5 460.0 567.9 461.1 569.6 462.2 571.5 463.3 573.3 464.4 574.8 465.5 575.9 466.6 576.4 467.7 576.2 468.8 575.4 469.9 574.2 471.0 572.7 472.1 571.1 473.3 569.5 474.4 568.1 475.5 566.8 476.6 566.1 477.7 565.8 478.8 566.1 479.9 566.9 481.0 567.9 482.1 569.0 483.2 570.2 484.3 571.2 485.4 571.9 486.5 572.3 487.6 571.9 488.7 570.7 489.8 568.8 490.9 566.4 492.1 563.8 493.2 561.1 494.3 558.6 495.4 556.5 496.5 555.0 497.6 554.2 498.7 554.5 499.8 555.6 500.9 557.3 502.0 559.3 503.1 561.4 504.2 563.3 505.3 564.7 506.4 565.3 507.5 565.0 508.6 564.0 509.7 562.5 510.8 560.6 512.0 558.6 513.1 556.7 514.2 555.0 515.3 553.8 516.4 553.3 517.5 553.6 518.6 554.5 519.7 555.9 520.8 557.7 521.9 559.6 523.0 561.5 524.1 563.2 525.2 564.5 526.3 565.2 527.4 565.1 528.5 563.9 529.6 561.8 530.8 559.1 531.9 556.0 533.0 553.1 534.1 550.5 535.2 548.6 536.3 547.8 537.4 548.2 538.5 549.6 539.6 551.7 540.7 554.1 541.8 556.5 542.9 558.5 544.0 559.8 545.1 560.1 546.2 559.8 547.3 559.1 548.4 558.2 549.6 557.1 550.7 555.9 551.8 554.8 552.9 553.8 554.0 553.1 555.1 552.7 556.2 552.7 557.3 553.3 558.4 554.3 559.5 555.5 560.6 556.9 561.7 558.3 562.8 559.5 563.9 560.6 565.0 561.2 566.1 561.4 567.2 560.7 568.4 559.3 569.5 557.4 570.6 555.2 571.7 552.9 572.8 550.9 573.9 549.4 575.0 548.5 576.1 548.5 577.2 549.3 578.3 550.7 579.4 552.5 580.5 554.5 581.6 556.6 582.7 558.4 583.8 559.9 584.9 560.9 586.0 561.2 587.2 560.7 588.3 559.7 589.4 558.4 590.5 556.8 591.6 555.2 592.7 553.6 593.8 552.2 594.9 551.3 596.0 550.9 597.1 551.1 598.2 551.8 599.3 552.9 600.4 554.3 601.5 555.7 602.6 557.2 603.7 558.5 604.8 559.5 605.9 560.1 607.1 560.0 608.2 559.0 609.3 557.2 610.4 554.9 611.5 552.5 612.6 550.1 613.7 548.1 614.8 546.8 615.9 546.5 617.0 547.5 618.1 549.5 619.2 552.3 620.3 555.4 621.4 558.5 622.5 561.2 623.6 563.2 624.7 564.0 625.9 563.6 627.0 562.6 628.1 561.0 629.2 559.1 630.3 557.2 631.4 555.3 632.5 553.8 633.6 552.9 634.7 552.7 635.8 553.2 636.9 554.1 638.0 555.5 639.1 557.1 640.2 558.7 641.3 560.4 642.4 561.9 643.5 563.1 644.7 563.8 645.8 564.0 646.9 563.3 648.0 561.9 649.1 559.9 650.2 557.7 651.3 555.4 652.4 553.4 653.5 551.8 654.6 550.9 655.7 551.0 656.8 552.3 657.9 554.3 659.0 556.9 660.1 559.6 661.2 562.2 662.3 564.4 663.5 565.7 664.6 566.1 665.7 565.7 666.8 564.8 667.9 563.7 669.0 562.3 670.1 560.9 671.2 559.3 672.3 557.9 673.4 556.6 674.5 555.6 675.6 554.9 676.7 554.7 677.8 555.0 678.9 555.5 680.0 556.3 681.1 557.4 682.3 558.5 683.4 559.7 684.5 560.8 685.6 561.9 686.7 562.7 687.8 563.4 688.9 563.7 690.0 563.5 691.1 562.4 692.2 560.4 693.3 558.0 694.4 555.5 695.5 553.1 696.6 551.1 697.7 549.8 698.8 549.6 699.9 550.9 701.1 553.3 702.2 556.3 703.3 559.4 704.4 562.2 705.5 564.2 706.6 564.8 707.7 564.3 708.8 563.3 709.9 561.9 711.0 560.2 712.1 558.4 713.2 556.6 714.3 555.0 715.4 553.8 716.5 553.0 717.6 553.0 718.7 553.5 719.8 554.6 721.0 556.1 722.1 557.7 723.2 559.5 724.3 561.2 725.4 562.7 726.5 563.9 727.6 564.6 728.7 564.7 729.8 563.8 730.9 562.1 732.0 559.9 733.1 557.4 734.2 554.9 735.3 552.8 736.4 551.4 737.5 550.8 738.6 552.0 739.8 554.7 740.9 558.3 742.0 562.1 743.1 565.6 744.2 568.0 745.3 568.6 746.4 568.1 747.5 566.9 748.6 565.2 749.7 563.2 750.8 560.9 751.9 558.6 753.0 556.3 754.1 554.4 755.2 552.8 756.3 551.7 757.4 551.4 758.6 551.7 759.7 552.6 760.8 553.9 761.9 555.5 763.0 557.3 764.1 559.2 765.2 561.0 766.3 562.6 767.4 564.0 768.5 564.9 769.6 565.3 770.7 564.5 771.8 562.3 772.9 559.2 774.0 556.0 775.1 553.3 776.2 551.9 777.4 552.5 778.5 554.6 779.6 557.9 780.7 561.5 781.8 564.9 782.9 567.5 784.0 568.6 785.1 568.1 786.2 566.6 787.3 564.5 788.4 562.2 789.5 560.1 790.6 558.6 791.7 558.1 792.8 558.1 793.9 558.2 795.0 558.3 796.2 558.4 797.3 558.6 798.4 558.9 799.5 559.5 800.6 560.2 801.7 560.9 802.8 561.7 803.9 562.7 805.0 563.9 806.1 564.9 807.2 565.3 808.3 564.6 809.4 563.0 810.5 560.8 811.6 558.7 812.7 557.0 813.8 556.3 814.9 556.8 816.1 558.4 817.2 560.8 818.3 563.5 819.4 566.2 820.5 568.6 821.6 570.3 822.7 571.0 823.8 570.5 824.9 569.2 826.0 567.5 827.1 565.6 828.2 563.8 829.3 562.4 830.4 561.7 831.5 562.2 832.6 563.9 833.7 566.6 834.9 569.8 836.0 573.1 837.1 576.2 838.2 578.6 839.3 579.9 840.4 580.4 841.5 580.7 842.6 581.0" stroke="#e07a30" stroke-width="3.2" stroke-linecap="round" stroke-linejoin="round" fill="none"/>
<path d="M26.5 548.8 27.6 547.7 28.7 546.5 29.8 545.2 30.9 544.0 32.0 542.8 33.1 541.8 34.2 541.1 35.3 540.8 36.5 541.0 37.6 541.6 38.7 542.4 39.8 542.8 40.9 542.5 42.0 541.5 43.1 539.9 44.2 538.4 45.3 537.1 46.4 536.7 47.5 537.0 48.6 537.7 49.7 538.5 50.8 539.1 51.9 539.2 53.0 539.1 54.1 538.9 55.3 538.8 56.4 538.7 57.5 539.0 58.6 539.5 59.7 540.0 60.8 540.5 61.9 540.8 63.0 540.7 64.1 540.2 65.2 539.6 66.3 539.0 67.4 538.7 68.5 538.8 69.6 539.0 70.7 539.2 71.8 539.5 72.9 539.7 74.1 539.7 75.2 538.9 76.3 537.3 77.4 535.5 78.5 534.1 79.6 532.6 80.7 531.2 81.8 530.3 82.9 530.4 84.0 531.5 85.1 533.0 86.2 534.3 87.3 535.6 88.4 536.9 89.5 537.6 90.6 537.7 91.7 537.7 92.8 537.7 94.0 537.7 95.1 538.0 96.2 539.3 97.3 541.0 98.4 542.7 99.5 544.0 100.6 545.1 101.7 546.1 102.8 547.1 103.9 547.9 105.0 548.6 106.1 549.2 107.2 549.5 108.3 549.8 109.4 550.0 110.5 550.2 111.6 550.3 112.8 550.2 113.9 549.5 115.0 548.4 116.1 547.1 117.2 545.8 118.3 544.9 119.4 543.9 120.5 543.0 121.6 542.0 122.7 541.1 123.8 540.3 124.9 539.7 126.0 539.3 127.1 539.2 128.2 539.2 129.3 539.2 130.4 539.2 131.6 539.2 132.7 539.2 133.8 539.2 134.9 539.2 136.0 539.2 137.1 539.2 138.2 539.2 139.3 539.2 140.4 539.3 141.5 539.5 142.6 539.7 143.7 539.9 144.8 540.1 145.9 540.2 147.0 540.2 148.1 539.2 149.2 537.3 150.4 534.8 151.5 532.2 152.6 529.8 153.7 528.2 154.8 527.6 155.9 528.2 157.0 529.4 158.1 530.9 159.2 532.3 160.3 533.3 161.4 533.5 162.5 533.5 163.6 533.3 164.7 533.1 165.8 532.9 166.9 532.6 168.0 532.4 169.2 532.1 170.3 531.9 171.4 531.7 172.5 531.6 173.6 531.5 174.7 531.6 175.8 532.2 176.9 533.0 178.0 534.0 179.1 535.1 180.2 536.1 181.3 537.0 182.4 537.5 183.5 537.7 184.6 537.4 185.7 536.8 186.8 536.0 187.9 534.9 189.1 533.7 190.2 532.4 191.3 531.0 192.4 529.4 193.5 527.7 194.6 526.2 195.7 524.8 196.8 523.4 197.9 522.1 199.0 521.1 200.1 520.2 201.2 519.6 202.3 519.4 203.4 519.5 204.5 520.0 205.6 520.8 206.7 521.8 207.9 522.7 209.0 523.7 210.1 524.4 211.2 524.9 212.3 525.0 213.4 524.2 214.5 522.8 215.6 520.9 216.7 519.1 217.8 517.6 218.9 516.8 220.0 516.9 221.1 517.5 222.2 518.4 223.3 519.4 224.4 520.4 225.5 521.1 226.7 521.4 227.8 521.1 228.9 520.1 230.0 518.5 231.1 516.7 232.2 514.6 233.3 512.5 234.4 510.5 235.5 508.9 236.6 507.7 237.7 507.2 238.8 507.4 239.9 507.9 241.0 508.5 242.1 509.0 243.2 509.3 244.3 508.8 245.5 507.1 246.6 504.3 247.7 500.9 248.8 497.1 249.9 493.2 251.0 489.5 252.1 486.4 253.2 484.1 254.3 483.0 255.4 484.0 256.5 487.9 257.6 493.6 258.7 499.4 259.8 503.9 260.9 505.8 262.0 506.7 263.1 507.2 264.3 507.0 265.4 506.3 266.5 505.2 267.6 504.1 268.7 503.2 269.8 502.6 270.9 502.3 272.0 502.1 273.1 501.9 274.2 500.7 275.3 497.8 276.4 493.9 277.5 490.1 278.6 487.3 279.7 485.7 280.8 484.4 281.9 483.4 283.1 482.4 284.2 481.6 285.3 480.9 286.4 480.1 287.5 479.6 288.6 479.4 289.7 479.9 290.8 481.1 291.9 482.8 293.0 485.8 294.1 491.1 295.2 496.7 296.3 500.9 297.4 502.4 298.5 503.4 299.6 504.1 300.7 504.5 301.8 504.6 303.0 504.6 304.1 504.6 305.2 504.5 306.3 504.4 307.4 504.2 308.5 504.1 309.6 503.9 310.7 503.6 311.8 502.1 312.9 498.3 314.0 493.3 315.1 487.8 316.2 482.9 317.3 479.4 318.4 478.3 319.5 478.5 320.6 478.9 321.8 479.4 322.9 480.1 324.0 480.9 325.1 481.6 326.2 482.4 327.3 483.6 328.4 485.0 329.5 486.4 330.6 487.4 331.7 487.6 332.8 486.7 333.9 484.8 335.0 482.5 336.1 480.1 337.2 478.1 338.3 476.8 339.4 476.5 340.6 476.7 341.7 477.0 342.8 477.3 343.9 477.5 345.0 477.5 346.1 477.5 347.2 477.3 348.3 477.1 349.4 476.8 350.5 475.7 351.6 473.7 352.7 471.1 353.8 468.5 354.9 466.2 356.0 464.2 357.1 462.3 358.2 460.0 359.4 457.3 360.5 452.6 361.6 446.2 362.7 440.3 363.8 437.0 364.9 436.9 366.0 437.6 367.1 438.7 368.2 440.3 369.3 443.9 370.4 447.5 371.5 449.8 372.6 451.7 373.7 453.6 374.8 456.2 375.9 460.5 377.0 467.6 378.2 476.3 379.3 485.6 380.4 497.7 381.5 509.3 382.6 516.2 383.7 519.8 384.8 521.4 385.9 521.0 387.0 520.0 388.1 518.5 389.2 516.8 390.3 515.1 391.4 513.5 392.5 512.3 393.6 511.4 394.7 510.6 395.8 509.9 396.9 509.0 398.1 507.8 399.2 506.3 400.3 502.8 401.4 495.5 402.5 489.0 403.6 487.5 404.7 487.2 405.8 487.1 406.9 487.0 408.0 486.9 409.1 486.8 410.2 486.7 411.3 486.6 412.4 486.4 413.5 485.9 414.6 484.9 415.7 483.5 416.9 482.0 418.0 480.6 419.1 479.6 420.2 478.9 421.3 478.6 422.4 478.3 423.5 478.0 424.6 477.8 425.7 477.6 426.8 477.3 427.9 477.0 429.0 476.6 430.1 475.8 431.2 474.9 432.3 473.8 433.4 472.5 434.5 471.3 435.7 470.2 436.8 469.3 437.9 468.6 439.0 468.3 440.1 468.4 441.2 469.1 442.3 470.1 443.4 471.2 444.5 472.2 445.6 473.0 446.7 473.2 447.8 473.0 448.9 472.7 450.0 472.3 451.1 471.8 452.2 471.3 453.3 470.7 454.5 470.1 455.6 469.4 456.7 468.5 457.8 467.5 458.9 466.4 460.0 465.4 461.1 464.4 462.2 463.5 463.3 462.6 464.4 461.8 465.5 460.8 466.6 459.7 467.7 458.4 468.8 456.6 469.9 453.8 471.0 450.1 472.1 445.9 473.3 441.4 474.4 437.2 475.5 433.7 476.6 430.2 477.7 426.8 478.8 424.8 479.9 424.9 481.0 425.9 482.1 427.5 483.2 429.1 484.3 430.3 485.4 430.9 486.5 431.2 487.6 431.3 488.7 431.5 489.8 431.6 490.9 431.8 492.1 432.1 493.2 432.6 494.3 433.7 495.4 435.1 496.5 436.7 497.6 438.2 498.7 440.2 499.8 442.5 500.9 444.5 502.0 445.5 503.1 445.2 504.2 443.9 505.3 441.9 506.4 439.4 507.5 436.7 508.6 434.0 509.7 431.5 510.8 429.2 512.0 426.4 513.1 423.6 514.2 421.3 515.3 419.9 516.4 420.1 517.5 421.9 518.6 424.5 519.7 427.0 520.8 428.8 521.9 430.6 523.0 432.3 524.1 433.7 525.2 434.7 526.3 434.9 527.4 433.8 528.5 431.5 529.6 428.6 530.8 425.7 531.9 423.4 533.0 422.1 534.1 422.7 535.2 425.2 536.3 428.3 537.4 430.8 538.5 432.9 539.6 435.1 540.7 437.1 541.8 438.6 542.9 439.3 544.0 438.9 545.1 437.3 546.2 434.7 547.3 431.7 548.4 428.6 549.6 425.9 550.7 424.1 551.8 423.6 552.9 424.1 554.0 425.1 555.1 426.2 556.2 427.2 557.3 427.7 558.4 427.7 559.5 427.6 560.6 427.5 561.7 427.3 562.8 427.1 563.9 426.9 565.0 426.7 566.1 426.5 567.2 426.5 568.4 426.5 569.5 427.1 570.6 428.2 571.7 429.6 572.8 431.2 573.9 432.8 575.0 434.4 576.1 435.6 577.2 436.4 578.3 436.8 579.4 437.1 580.5 437.4 581.6 437.6 582.7 437.8 583.8 437.8 584.9 437.5 586.0 436.8 587.2 435.9 588.3 434.9 589.4 433.7 590.5 432.4 591.6 431.2 592.7 430.0 593.8 428.4 594.9 426.5 596.0 424.5 597.1 422.6 598.2 420.9 599.3 419.7 600.4 419.2 601.5 419.4 602.6 419.8 603.7 420.6 604.8 421.5 605.9 422.7 607.1 423.9 608.2 425.2 609.3 426.4 610.4 427.7 611.5 429.1 612.6 430.8 613.7 432.7 614.8 434.8 615.9 437.3 617.0 440.5 618.1 444.1 619.2 447.9 620.3 451.9 621.4 456.1 622.5 461.7 623.6 467.8 624.7 473.0 625.9 476.3 627.0 476.6 628.1 475.4 629.2 473.2 630.3 470.6 631.4 467.7 632.5 464.9 633.6 461.8 634.7 458.0 635.8 454.2 636.9 451.1 638.0 449.4 639.1 448.5 640.2 447.7 641.3 447.1 642.4 446.7 643.5 446.6 644.7 447.8 645.8 450.8 646.9 454.7 648.0 458.6 649.1 461.6 650.2 463.2 651.3 464.3 652.4 465.3 653.5 466.2 654.6 466.9 655.7 467.7 656.8 468.6 657.9 469.6 659.0 470.8 660.1 472.3 661.2 474.0 662.3 475.7 663.5 477.3 664.6 478.8 665.7 480.1 666.8 480.9 667.9 481.4 669.0 481.2 670.1 480.3 671.2 478.8 672.3 476.8 673.4 474.4 674.5 471.9 675.6 469.2 676.7 466.7 677.8 464.4 678.9 462.4 680.0 461.0 681.1 460.1 682.3 460.1 683.4 461.3 684.5 463.1 685.6 465.1 686.7 466.6 687.8 467.2 688.9 467.2 690.0 467.0 691.1 466.8 692.2 466.5 693.3 466.3 694.4 466.1 695.5 465.9 696.6 466.0 697.7 466.4 698.8 466.9 699.9 467.2 701.1 466.8 702.2 465.5 703.3 463.7 704.4 461.9 705.5 460.5 706.6 459.7 707.7 459.0 708.8 458.4 709.9 457.9 711.0 457.4 712.1 457.0 713.2 456.7 714.3 456.5 715.4 456.4 716.5 456.5 717.6 456.9 718.7 457.5 719.8 458.2 721.0 458.9 722.1 459.5 723.2 459.9 724.3 460.0 725.4 459.3 726.5 458.0 727.6 456.4 728.7 454.7 729.8 453.3 730.9 452.4 732.0 452.4 733.1 453.4 734.2 454.7 735.3 455.1 736.4 454.8 737.5 454.2 738.6 453.5 739.8 452.8 740.9 452.1 742.0 451.3 743.1 450.3 744.2 449.3 745.3 448.4 746.4 447.5 747.5 446.9 748.6 446.5 749.7 446.2 750.8 446.1 751.9 445.9 753.0 445.5 754.1 444.4 755.2 442.2 756.3 439.5 757.4 437.0 758.6 435.2 759.7 434.7 760.8 434.8 761.9 435.0 763.0 435.4 764.1 435.8 765.2 436.2 766.3 436.6 767.4 437.0 768.5 437.4 769.6 437.6 770.7 437.8 771.8 437.8 772.9 437.6 774.0 437.3 775.1 437.1 776.2 437.0 777.4 438.1 778.5 440.5 779.6 443.7 780.7 447.3 781.8 450.7 782.9 453.4 784.0 454.9 785.1 454.9 786.2 453.9 787.3 452.2 788.4 449.9 789.5 447.2 790.6 444.3 791.7 441.4 792.8 438.7 793.9 436.4 795.0 434.6 796.2 433.6 797.3 433.4 798.4 433.7 799.5 434.2 800.6 434.8 801.7 435.6 802.8 436.5 803.9 437.4 805.0 438.2 806.1 439.1 807.2 440.3 808.3 441.5 809.4 442.5 810.5 443.3 811.6 443.6 812.7 443.7 813.8 443.8 814.9 443.9 816.1 444.0 817.2 444.0 818.3 444.1 819.4 444.2 820.5 444.3 821.6 444.4 822.7 444.6 823.8 444.7 824.9 444.9 826.0 445.2 827.1 445.6 828.2 447.3 829.3 450.7 830.4 454.9 831.5 459.0 832.6 462.7 833.7 467.1 834.9 471.2 836.0 473.9 837.1 474.3 838.2 472.6 839.3 469.6 840.4 465.9 841.5 462.1 842.6 458.7" stroke="#0cb04f" stroke-width="3.2" stroke-linecap="round" stroke-linejoin="round" fill="none"/>
<path d="M26.5 550.1 27.6 549.6 28.7 549.1 29.8 548.6 30.9 548.2 32.0 547.7 33.1 547.2 34.2 546.7 35.3 546.3 36.5 545.8 37.6 545.4 38.7 545.0 39.8 544.5 40.9 544.1 42.0 543.7 43.1 543.3 44.2 542.9 45.3 542.4 46.4 542.0 47.5 541.6 48.6 541.2 49.7 540.8 50.8 540.4 51.9 540.0 53.0 539.6 54.1 539.2 55.3 538.8 56.4 538.4 57.5 538.0 58.6 537.6 59.7 537.3 60.8 536.9 61.9 536.6 63.0 536.2 64.1 535.9 65.2 535.5 66.3 535.2 67.4 534.9 68.5 534.6 69.6 534.3 70.7 534.0 71.8 533.7 72.9 533.4 74.1 533.2 75.2 532.9 76.3 532.7 77.4 532.5 78.5 532.3 79.6 532.1 80.7 532.0 81.8 531.8 82.9 531.6 84.0 531.5 85.1 531.3 86.2 531.2 87.3 531.0 88.4 530.8 89.5 530.7 90.6 530.5 91.7 530.3 92.8 530.0 94.0 529.8 95.1 529.5 96.2 529.2 97.3 528.9 98.4 528.6 99.5 528.1 100.6 527.4 101.7 526.6 102.8 525.8 103.9 525.2 105.0 524.6 106.1 524.0 107.2 523.5 108.3 522.9 109.4 522.4 110.5 521.9 111.6 521.4 112.8 520.9 113.9 520.4 115.0 519.9 116.1 519.5 117.2 519.0 118.3 518.6 119.4 518.1 120.5 517.7 121.6 517.3 122.7 516.9 123.8 516.5 124.9 516.1 126.0 515.7 127.1 515.4 128.2 515.0 129.3 514.7 130.4 514.4 131.6 514.0 132.7 513.7 133.8 513.4 134.9 513.1 136.0 512.8 137.1 512.5 138.2 512.2 139.3 511.9 140.4 511.6 141.5 511.4 142.6 511.1 143.7 510.8 144.8 510.5 145.9 510.2 147.0 509.9 148.1 509.6 149.2 509.2 150.4 508.9 151.5 508.6 152.6 508.3 153.7 508.0 154.8 507.7 155.9 507.3 157.0 507.0 158.1 506.7 159.2 506.4 160.3 506.1 161.4 505.8 162.5 505.5 163.6 505.3 164.7 505.0 165.8 504.7 166.9 504.5 168.0 504.3 169.2 504.0 170.3 503.9 171.4 503.7 172.5 503.5 173.6 503.3 174.7 503.1 175.8 503.0 176.9 502.8 178.0 502.6 179.1 502.3 180.2 502.1 181.3 501.7 182.4 501.4 183.5 501.0 184.6 500.5 185.7 500.0 186.8 499.5 187.9 499.0 189.1 498.4 190.2 497.9 191.3 497.4 192.4 496.9 193.5 496.4 194.6 496.0 195.7 495.6 196.8 495.2 197.9 494.8 199.0 494.4 200.1 494.0 201.2 493.7 202.3 493.3 203.4 492.9 204.5 492.6 205.6 492.3 206.7 491.9 207.9 491.6 209.0 491.3 210.1 491.0 211.2 490.7 212.3 490.5 213.4 490.2 214.5 490.0 215.6 489.8 216.7 489.6 217.8 489.4 218.9 489.1 220.0 488.9 221.1 488.6 222.2 488.3 223.3 488.0 224.4 487.7 225.5 487.3 226.7 486.9 227.8 486.3 228.9 485.7 230.0 485.1 231.1 484.5 232.2 483.9 233.3 483.4 234.4 482.9 235.5 482.5 236.6 482.1 237.7 481.7 238.8 481.4 239.9 481.0 241.0 480.7 242.1 480.3 243.2 480.0 244.3 479.7 245.5 479.4 246.6 479.0 247.7 478.7 248.8 478.4 249.9 478.1 251.0 477.8 252.1 477.5 253.2 477.2 254.3 476.9 255.4 476.7 256.5 476.4 257.6 476.1 258.7 475.9 259.8 475.6 260.9 475.3 262.0 475.0 263.1 474.7 264.3 474.3 265.4 474.0 266.5 473.6 267.6 473.1 268.7 472.5 269.8 471.9 270.9 471.3 272.0 470.7 273.1 470.2 274.2 469.7 275.3 469.2 276.4 468.9 277.5 468.5 278.6 468.1 279.7 467.8 280.8 467.4 281.9 467.1 283.1 466.8 284.2 466.5 285.3 466.2 286.4 465.9 287.5 465.6 288.6 465.3 289.7 465.1 290.8 464.8 291.9 464.6 293.0 464.4 294.1 464.2 295.2 464.0 296.3 463.8 297.4 463.6 298.5 463.4 299.6 463.2 300.7 462.9 301.8 462.6 303.0 462.3 304.1 461.9 305.2 461.2 306.3 460.4 307.4 459.4 308.5 458.5 309.6 457.6 310.7 456.9 311.8 456.4 312.9 456.0 314.0 455.5 315.1 455.1 316.2 454.8 317.3 454.5 318.4 454.1 319.5 453.8 320.6 453.5 321.8 453.1 322.9 452.8 324.0 452.4 325.1 452.0 326.2 451.6 327.3 451.1 328.4 450.6 329.5 450.2 330.6 449.7 331.7 449.2 332.8 448.7 333.9 448.1 335.0 447.6 336.1 447.1 337.2 446.5 338.3 446.0 339.4 445.5 340.6 444.9 341.7 444.3 342.8 443.6 343.9 442.8 345.0 442.1 346.1 441.4 347.2 440.8 348.3 440.2 349.4 439.8 350.5 439.4 351.6 439.2 352.7 439.1 353.8 439.0 354.9 438.8 356.0 438.7 357.1 438.6 358.2 438.6 359.4 438.5 360.5 438.4 361.6 438.3 362.7 438.2 363.8 438.1 364.9 438.0 366.0 437.8 367.1 437.7 368.2 437.6 369.3 437.5 370.4 437.4 371.5 437.3 372.6 437.1 373.7 437.0 374.8 436.9 375.9 436.7 377.0 436.5 378.2 436.4 379.3 436.2 380.4 436.0 381.5 435.7 382.6 435.5 383.7 435.2 384.8 434.8 385.9 434.1 387.0 433.3 388.1 432.5 389.2 431.7 390.3 431.1 391.4 430.5 392.5 430.0 393.6 429.6 394.7 429.2 395.8 428.7 396.9 428.3 398.1 428.0 399.2 427.6 400.3 427.3 401.4 426.9 402.5 426.6 403.6 426.3 404.7 426.0 405.8 425.8 406.9 425.6 408.0 425.4 409.1 425.2 410.2 425.0 411.3 424.8 412.4 424.6 413.5 424.4 414.6 424.2 415.7 424.0 416.9 423.8 418.0 423.5 419.1 423.3 420.2 423.0 421.3 422.6 422.4 422.2 423.5 421.7 424.6 420.9 425.7 420.0 426.8 419.1 427.9 418.2 429.0 417.3 430.1 416.7 431.2 416.3 432.3 416.0 433.4 415.8 434.5 415.6 435.7 415.4 436.8 415.3 437.9 415.1 439.0 415.0 440.1 414.9 441.2 414.7 442.3 414.6 443.4 414.4 444.5 414.2 445.6 414.0 446.7 413.7 447.8 413.4 448.9 412.9 450.0 412.4 451.1 411.9 452.2 411.4 453.3 411.1 454.5 410.7 455.6 410.5 456.7 410.3 457.8 410.1 458.9 409.9 460.0 409.7 461.1 409.5 462.2 409.2 463.3 408.9 464.4 408.4 465.5 407.7 466.6 406.9 467.7 406.1 468.8 405.3 469.9 404.6 471.0 404.2 472.1 403.8 473.3 403.4 474.4 403.1 475.5 402.9 476.6 402.6 477.7 402.4 478.8 402.1 479.9 401.9 481.0 401.7 482.1 401.5 483.2 401.3 484.3 401.1 485.4 400.9 486.5 400.7 487.6 400.4 488.7 400.2 489.8 399.9 490.9 399.6 492.1 399.3 493.2 399.0 494.3 398.7 495.4 398.4 496.5 398.1 497.6 397.7 498.7 397.4 499.8 397.0 500.9 396.6 502.0 396.2 503.1 395.8 504.2 395.4 505.3 394.9 506.4 394.3 507.5 393.6 508.6 393.0 509.7 392.3 510.8 391.6 512.0 391.0 513.1 390.4 514.2 389.8 515.3 389.2 516.4 388.6 517.5 388.0 518.6 387.5 519.7 386.9 520.8 386.4 521.9 385.9 523.0 385.5 524.1 385.1 525.2 384.8 526.3 384.6 527.4 384.4 528.5 384.2 529.6 384.1 530.8 384.0 531.9 383.9 533.0 383.8 534.1 383.7 535.2 383.6 536.3 383.5 537.4 383.4 538.5 383.3 539.6 383.2 540.7 383.0 541.8 382.8 542.9 382.6 544.0 382.3 545.1 381.6 546.2 380.8 547.3 379.8 548.4 378.9 549.6 378.1 550.7 377.6 551.8 377.4 552.9 377.5 554.0 377.6 555.1 377.8 556.2 378.0 557.3 378.1 558.4 378.3 559.5 378.4 560.6 378.4 561.7 378.3 562.8 377.9 563.9 377.4 565.0 376.8 566.1 376.1 567.2 375.4 568.4 374.8 569.5 374.3 570.6 374.0 571.7 373.8 572.8 373.8 573.9 373.9 575.0 373.9 576.1 374.0 577.2 374.1 578.3 374.2 579.4 374.3 580.5 374.4 581.6 374.5 582.7 374.6 583.8 374.5 584.9 373.6 586.0 372.2 587.2 370.6 588.3 369.3 589.4 368.8 590.5 368.5 591.6 368.2 592.7 367.9 593.8 367.7 594.9 367.5 596.0 367.3 597.1 367.2 598.2 367.0 599.3 366.9 600.4 366.8 601.5 366.7 602.6 366.6 603.7 366.5 604.8 366.4 605.9 366.3 607.1 366.2 608.2 366.1 609.3 365.9 610.4 365.8 611.5 365.6 612.6 365.5 613.7 365.3 614.8 365.0 615.9 364.8 617.0 364.5 618.1 364.2 619.2 363.9 620.3 363.5 621.4 363.1 622.5 362.7 623.6 362.3 624.7 361.8 625.9 361.4 627.0 360.9 628.1 360.3 629.2 359.5 630.3 358.7 631.4 357.8 632.5 357.0 633.6 356.2 634.7 355.5 635.8 354.9 636.9 354.6 638.0 354.4 639.1 354.4 640.2 354.4 641.3 354.4 642.4 354.4 643.5 354.4 644.7 354.4 645.8 354.4 646.9 354.4 648.0 354.4 649.1 354.4 650.2 354.4 651.3 354.0 652.4 353.3 653.5 352.5 654.6 351.6 655.7 350.9 656.8 350.3 657.9 350.0 659.0 350.0 660.1 349.9 661.2 349.9 662.3 349.9 663.5 349.8 664.6 349.0 665.7 347.2 666.8 345.1 667.9 343.3 669.0 342.4 670.1 341.8 671.2 341.3 672.3 341.0 673.4 340.6 674.5 340.3 675.6 340.1 676.7 339.8 677.8 339.6 678.9 339.2 680.0 338.9 681.1 338.5 682.3 337.9 683.4 337.1 684.5 336.1 685.6 335.0 686.7 334.0 687.8 333.1 688.9 332.5 690.0 332.2 691.1 332.1 692.2 332.0 693.3 331.9 694.4 331.9 695.5 331.9 696.6 331.8 697.7 331.8 698.8 331.7 699.9 331.6 701.1 331.5 702.2 331.4 703.3 330.8 704.4 329.9 705.5 328.8 706.6 327.7 707.7 326.8 708.8 326.2 709.9 326.0 711.0 326.2 712.1 326.4 713.2 326.7 714.3 327.0 715.4 327.4 716.5 327.6 717.6 327.8 718.7 327.8 719.8 327.6 721.0 327.2 722.1 326.6 723.2 325.9 724.3 325.3 725.4 324.7 726.5 324.4 727.6 324.2 728.7 324.1 729.8 324.0 730.9 324.0 732.0 323.9 733.1 323.9 734.2 323.9 735.3 323.9 736.4 323.8 737.5 323.8 738.6 323.7 739.8 323.6 740.9 323.5 742.0 323.3 743.1 322.3 744.2 320.9 745.3 319.5 746.4 318.4 747.5 318.0 748.6 317.5 749.7 317.1 750.8 316.7 751.9 316.4 753.0 316.1 754.1 315.8 755.2 315.6 756.3 315.3 757.4 315.2 758.6 315.1 759.7 315.0 760.8 314.9 761.9 315.0 763.0 315.2 764.1 315.6 765.2 315.9 766.3 316.3 767.4 316.6 768.5 316.7 769.6 316.7 770.7 316.6 771.8 316.4 772.9 316.1 774.0 315.8 775.1 315.4 776.2 314.9 777.4 314.5 778.5 314.0 779.6 313.5 780.7 313.0 781.8 312.4 782.9 311.7 784.0 311.0 785.1 310.3 786.2 309.6 787.3 309.2 788.4 308.8 789.5 308.4 790.6 308.1 791.7 307.8 792.8 307.5 793.9 307.3 795.0 307.0 796.2 306.7 797.3 306.4 798.4 306.1 799.5 305.7 800.6 305.2 801.7 304.7 802.8 304.1 803.9 303.4 805.0 302.6 806.1 301.8 807.2 301.0 808.3 300.1 809.4 299.3 810.5 298.5 811.6 297.6 812.7 296.6 813.8 295.7 814.9 294.8 816.1 293.9 817.2 293.1 818.3 292.3 819.4 291.6 820.5 290.8 821.6 290.1 822.7 289.3 823.8 288.6 824.9 287.9 826.0 287.2 827.1 286.5 828.2 285.9 829.3 285.2 830.4 284.5 831.5 283.9 832.6 283.3 833.7 282.7 834.9 282.1 836.0 281.4 837.1 280.8 838.2 280.2 839.3 279.6 840.4 279.0 841.5 278.4 842.6 277.8" stroke="#c00000" stroke-width="3.2" stroke-linecap="round" stroke-linejoin="round" fill="none"/>
<path d="M26.5 550.1 27.6 549.9 28.7 549.7 29.8 549.6 30.9 549.4 32.0 549.2 33.1 549.1 34.2 548.9 35.3 548.7 36.5 548.6 37.6 548.4 38.7 548.2 39.8 548.0 40.9 547.9 42.0 547.7 43.1 547.5 44.2 547.3 45.3 547.2 46.4 547.0 47.5 546.8 48.6 546.7 49.7 546.5 50.8 546.3 51.9 546.2 53.0 546.0 54.1 545.8 55.3 545.7 56.4 545.5 57.5 545.4 58.6 545.2 59.7 545.1 60.8 544.9 61.9 544.8 63.0 544.7 64.1 544.5 65.2 544.4 66.3 544.3 67.4 544.1 68.5 544.0 69.6 543.9 70.7 543.8 71.8 543.7 72.9 543.6 74.1 543.5 75.2 543.4 76.3 543.3 77.4 543.2 78.5 543.1 79.6 543.0 80.7 542.9 81.8 542.9 82.9 542.8 84.0 542.7 85.1 542.6 86.2 542.5 87.3 542.4 88.4 542.3 89.5 542.2 90.6 542.1 91.7 542.0 92.8 541.9 94.0 541.8 95.1 541.7 96.2 541.6 97.3 541.5 98.4 541.4 99.5 541.3 100.6 541.1 101.7 541.0 102.8 540.9 103.9 540.8 105.0 540.6 106.1 540.5 107.2 540.4 108.3 540.3 109.4 540.2 110.5 540.1 111.6 540.0 112.8 539.9 113.9 539.8 115.0 539.7 116.1 539.6 117.2 539.5 118.3 539.4 119.4 539.4 120.5 539.3 121.6 539.2 122.7 539.1 123.8 539.1 124.9 539.0 126.0 538.9 127.1 538.9 128.2 538.8 129.3 538.7 130.4 538.7 131.6 538.6 132.7 538.5 133.8 538.5 134.9 538.4 136.0 538.3 137.1 538.3 138.2 538.2 139.3 538.1 140.4 538.1 141.5 538.0 142.6 537.9 143.7 537.9 144.8 537.8 145.9 537.7 147.0 537.6 148.1 537.5 149.2 537.4 150.4 537.3 151.5 537.1 152.6 537.0 153.7 536.8 154.8 536.7 155.9 536.5 157.0 536.4 158.1 536.2 159.2 536.1 160.3 535.9 161.4 535.8 162.5 535.6 163.6 535.5 164.7 535.4 165.8 535.2 166.9 535.1 168.0 535.1 169.2 535.0 170.3 534.9 171.4 534.8 172.5 534.7 173.6 534.7 174.7 534.6 175.8 534.5 176.9 534.5 178.0 534.4 179.1 534.4 180.2 534.3 181.3 534.2 182.4 534.2 183.5 534.1 184.6 534.1 185.7 534.0 186.8 534.0 187.9 533.9 189.1 533.8 190.2 533.8 191.3 533.7 192.4 533.6 193.5 533.6 194.6 533.5 195.7 533.4 196.8 533.3 197.9 533.2 199.0 533.1 200.1 533.0 201.2 533.0 202.3 532.9 203.4 532.8 204.5 532.8 205.6 532.7 206.7 532.7 207.9 532.7 209.0 532.6 210.1 532.6 211.2 532.6 212.3 532.6 213.4 532.6 214.5 532.5 215.6 532.5 216.7 532.5 217.8 532.5 218.9 532.5 220.0 532.4 221.1 532.4 222.2 532.4 223.3 532.4 224.4 532.4 225.5 532.3 226.7 532.3 227.8 532.3 228.9 532.2 230.0 532.2 231.1 532.2 232.2 532.1 233.3 532.1 234.4 532.1 235.5 532.0 236.6 532.0 237.7 532.0 238.8 531.9 239.9 531.9 241.0 531.8 242.1 531.8 243.2 531.7 244.3 531.7 245.5 531.6 246.6 531.6 247.7 531.5 248.8 531.5 249.9 531.4 251.0 531.3 252.1 531.3 253.2 531.2 254.3 531.1 255.4 531.0 256.5 530.8 257.6 530.7 258.7 530.5 259.8 530.3 260.9 530.2 262.0 530.0 263.1 529.8 264.3 529.6 265.4 529.3 266.5 529.1 267.6 528.9 268.7 528.7 269.8 528.5 270.9 528.4 272.0 528.2 273.1 528.0 274.2 527.9 275.3 527.8 276.4 527.7 277.5 527.6 278.6 527.5 279.7 527.4 280.8 527.3 281.9 527.2 283.1 527.1 284.2 527.1 285.3 527.0 286.4 526.9 287.5 526.8 288.6 526.8 289.7 526.7 290.8 526.6 291.9 526.6 293.0 526.5 294.1 526.5 295.2 526.4 296.3 526.4 297.4 526.4 298.5 526.3 299.6 526.3 300.7 526.3 301.8 526.3 303.0 526.3 304.1 526.3 305.2 526.3 306.3 526.3 307.4 526.3 308.5 526.3 309.6 526.3 310.7 526.3 311.8 526.3 312.9 526.3 314.0 526.3 315.1 526.3 316.2 526.3 317.3 526.3 318.4 526.3 319.5 526.3 320.6 526.3 321.8 526.3 322.9 526.3 324.0 526.3 325.1 526.3 326.2 526.3 327.3 526.3 328.4 526.2 329.5 526.1 330.6 525.9 331.7 525.8 332.8 525.6 333.9 525.4 335.0 525.2 336.1 524.9 337.2 524.7 338.3 524.5 339.4 524.3 340.6 524.0 341.7 523.8 342.8 523.6 343.9 523.4 345.0 523.2 346.1 523.1 347.2 522.9 348.3 522.8 349.4 522.7 350.5 522.6 351.6 522.6 352.7 522.6 353.8 522.5 354.9 522.5 356.0 522.4 357.1 522.4 358.2 522.4 359.4 522.3 360.5 522.2 361.6 522.1 362.7 522.0 363.8 521.7 364.9 521.4 366.0 521.1 367.1 520.8 368.2 520.5 369.3 520.3 370.4 520.1 371.5 519.9 372.6 519.8 373.7 519.6 374.8 519.5 375.9 519.4 377.0 519.3 378.2 519.2 379.3 519.1 380.4 518.9 381.5 518.8 382.6 518.7 383.7 518.6 384.8 518.5 385.9 518.3 387.0 518.2 388.1 518.2 389.2 518.1 390.3 518.1 391.4 518.1 392.5 518.2 393.6 518.5 394.7 518.8 395.8 519.1 396.9 519.3 398.1 519.4 399.2 519.3 400.3 519.1 401.4 518.9 402.5 518.6 403.6 518.4 404.7 518.1 405.8 517.8 406.9 517.6 408.0 517.4 409.1 517.3 410.2 517.3 411.3 517.5 412.4 517.8 413.5 518.2 414.6 518.7 415.7 519.2 416.9 519.7 418.0 520.2 419.1 520.7 420.2 521.1 421.3 521.3 422.4 521.4 423.5 521.4 424.6 521.4 425.7 521.4 426.8 521.4 427.9 521.4 429.0 521.3 430.1 521.3 431.2 521.3 432.3 521.3 433.4 521.2 434.5 521.2 435.7 521.1 436.8 521.0 437.9 520.9 439.0 520.7 440.1 520.6 441.2 520.4 442.3 520.3 443.4 520.2 444.5 520.1 445.6 520.2 446.7 520.3 447.8 520.4 448.9 520.6 450.0 520.8 451.1 521.0 452.2 521.3 453.3 521.6 454.5 521.8 455.6 522.1 456.7 522.4 457.8 522.6 458.9 522.8 460.0 523.0 461.1 523.1 462.2 523.2 463.3 523.2 464.4 523.1 465.5 522.9 466.6 522.5 467.7 522.1 468.8 521.8 469.9 521.5 471.0 521.3 472.1 521.1 473.3 521.0 474.4 520.8 475.5 520.7 476.6 520.5 477.7 520.4 478.8 520.3 479.9 520.2 481.0 520.2 482.1 520.1 483.2 520.2 484.3 520.2 485.4 520.4 486.5 520.6 487.6 520.8 488.7 521.0 489.8 521.1 490.9 521.3 492.1 521.4 493.2 521.4 494.3 521.4 495.4 521.4 496.5 521.3 497.6 521.3 498.7 521.2 499.8 521.1 500.9 521.0 502.0 520.8 503.1 520.7 504.2 520.4 505.3 519.9 506.4 519.2 507.5 518.6 508.6 518.1 509.7 518.0 510.8 517.9 512.0 517.8 513.1 517.7 514.2 517.6 515.3 517.5 516.4 517.5 517.5 517.4 518.6 517.4 519.7 517.3 520.8 517.3 521.9 517.3 523.0 517.3 524.1 517.3 525.2 517.3 526.3 517.3 527.4 517.3 528.5 517.3 529.6 517.4 530.8 517.4 531.9 517.4 533.0 517.5 534.1 517.5 535.2 517.5 536.3 517.6 537.4 517.6 538.5 517.7 539.6 517.8 540.7 517.8 541.8 518.1 542.9 518.4 544.0 518.6 545.1 518.4 546.2 518.1 547.3 517.6 548.4 517.1 549.6 516.6 550.7 516.3 551.8 516.2 552.9 516.2 554.0 516.1 555.1 516.1 556.2 516.1 557.3 516.0 558.4 516.0 559.5 516.0 560.6 516.0 561.7 516.0 562.8 516.0 563.9 516.0 565.0 516.1 566.1 516.1 567.2 516.1 568.4 516.2 569.5 516.2 570.6 516.2 571.7 516.3 572.8 516.4 573.9 516.4 575.0 516.5 576.1 516.6 577.2 516.6 578.3 516.7 579.4 516.8 580.5 517.1 581.6 517.4 582.7 517.7 583.8 517.8 584.9 517.7 586.0 517.4 587.2 517.0 588.3 516.6 589.4 516.1 590.5 515.7 591.6 515.4 592.7 515.2 593.8 514.9 594.9 514.7 596.0 514.4 597.1 514.3 598.2 514.2 599.3 514.3 600.4 514.5 601.5 514.9 602.6 515.3 603.7 515.7 604.8 516.1 605.9 516.3 607.1 516.4 608.2 516.6 609.3 516.7 610.4 516.8 611.5 516.9 612.6 517.0 613.7 517.1 614.8 517.1 615.9 517.2 617.0 517.2 618.1 517.3 619.2 517.3 620.3 517.3 621.4 517.2 622.5 517.1 623.6 516.9 624.7 516.8 625.9 516.6 627.0 516.4 628.1 516.1 629.2 515.8 630.3 515.5 631.4 515.2 632.5 514.9 633.6 514.7 634.7 514.5 635.8 514.3 636.9 514.1 638.0 513.9 639.1 513.7 640.2 513.5 641.3 513.4 642.4 513.2 643.5 513.2 644.7 513.2 645.8 513.3 646.9 513.6 648.0 513.9 649.1 514.2 650.2 514.5 651.3 514.7 652.4 514.9 653.5 515.1 654.6 515.2 655.7 515.3 656.8 515.4 657.9 515.5 659.0 515.5 660.1 515.4 661.2 515.4 662.3 515.3 663.5 515.2 664.6 514.9 665.7 514.6 666.8 514.1 667.9 513.6 669.0 513.0 670.1 512.4 671.2 511.8 672.3 511.3 673.4 510.9 674.5 510.5 675.6 510.3 676.7 510.3 677.8 510.4 678.9 510.4 680.0 510.6 681.1 510.7 682.3 510.8 683.4 511.0 684.5 511.2 685.6 511.4 686.7 511.6 687.8 511.8 688.9 512.0 690.0 512.1 691.1 512.3 692.2 512.5 693.3 512.6 694.4 512.8 695.5 513.0 696.6 513.1 697.7 513.3 698.8 513.4 699.9 513.4 701.1 513.3 702.2 512.7 703.3 511.8 704.4 510.6 705.5 509.4 706.6 508.5 707.7 508.0 708.8 508.0 709.9 508.0 711.0 508.0 712.1 508.0 713.2 508.0 714.3 508.0 715.4 508.0 716.5 508.0 717.6 508.0 718.7 508.0 719.8 508.0 721.0 508.0 722.1 508.0 723.2 508.0 724.3 507.8 725.4 507.6 726.5 507.5 727.6 507.5 728.7 507.5 729.8 507.6 730.9 507.8 732.0 507.9 733.1 508.1 734.2 508.2 735.3 508.4 736.4 508.5 737.5 508.5 738.6 508.5 739.8 508.4 740.9 508.2 742.0 508.0 743.1 507.7 744.2 507.4 745.3 507.2 746.4 507.0 747.5 506.8 748.6 506.7 749.7 506.7 750.8 506.8 751.9 506.9 753.0 507.0 754.1 507.2 755.2 507.3 756.3 507.4 757.4 507.5 758.6 507.5 759.7 507.5 760.8 507.5 761.9 507.5 763.0 507.5 764.1 507.5 765.2 507.5 766.3 507.5 767.4 507.5 768.5 507.5 769.6 507.5 770.7 507.5 771.8 507.5 772.9 507.5 774.0 507.4 775.1 507.2 776.2 506.8 777.4 506.4 778.5 505.9 779.6 505.4 780.7 504.9 781.8 504.4 782.9 504.0 784.0 503.6 785.1 503.3 786.2 503.0 787.3 502.7 788.4 502.4 789.5 502.2 790.6 502.0 791.7 501.9 792.8 501.8 793.9 501.9 795.0 502.0 796.2 502.3 797.3 502.6 798.4 503.0 799.5 503.3 800.6 503.6 801.7 503.9 802.8 504.1 803.9 504.1 805.0 504.1 806.1 504.0 807.2 503.9 808.3 503.8 809.4 503.6 810.5 503.5 811.6 503.3 812.7 503.1 813.8 502.9 814.9 502.6 816.1 502.2 817.2 501.8 818.3 501.4 819.4 500.9 820.5 500.5 821.6 500.2 822.7 499.9 823.8 499.7 824.9 499.5 826.0 499.4 827.1 499.3 828.2 499.2 829.3 499.1 830.4 499.0 831.5 498.8 832.6 498.6 833.7 498.2 834.9 497.6 836.0 497.2 837.1 497.2 838.2 497.6 839.3 498.4 840.4 499.4 841.5 500.4 842.6 501.3" stroke="#a9c88c" stroke-width="3.2" stroke-linecap="round" stroke-linejoin="round" fill="none"/>
<path d="M26.5 550.1 27.6 550.1 28.7 550.2 29.8 550.3 30.9 550.4 32.0 550.4 33.1 550.5 34.2 550.6 35.3 550.6 36.5 550.7 37.6 550.8 38.7 550.9 39.8 550.9 40.9 551.0 42.0 551.1 43.1 551.2 44.2 551.3 45.3 551.3 46.4 551.4 47.5 551.2 48.6 550.9 49.7 550.4 50.8 549.8 51.9 549.1 53.0 548.5 54.1 547.9 55.3 547.4 56.4 547.1 57.5 546.9 58.6 546.7 59.7 546.5 60.8 546.4 61.9 546.2 63.0 546.1 64.1 546.0 65.2 545.8 66.3 545.7 67.4 545.6 68.5 545.5 69.6 545.3 70.7 545.2 71.8 545.0 72.9 544.9 74.1 544.8 75.2 544.6 76.3 544.5 77.4 544.4 78.5 544.2 79.6 544.1 80.7 544.0 81.8 543.8 82.9 543.6 84.0 543.5 85.1 543.3 86.2 543.1 87.3 542.9 88.4 542.6 89.5 542.2 90.6 541.7 91.7 541.2 92.8 540.7 94.0 540.2 95.1 539.7 96.2 539.3 97.3 538.9 98.4 538.7 99.5 538.5 100.6 538.2 101.7 538.0 102.8 537.9 103.9 537.7 105.0 537.5 106.1 537.4 107.2 537.3 108.3 537.2 109.4 537.2 110.5 537.2 111.6 537.2 112.8 537.4 113.9 537.5 115.0 537.7 116.1 537.9 117.2 538.2 118.3 538.4 119.4 538.5 120.5 538.6 121.6 538.7 122.7 538.7 123.8 538.3 124.9 537.7 126.0 536.9 127.1 536.0 128.2 535.1 129.3 534.2 130.4 533.5 131.6 532.9 132.7 532.5 133.8 532.4 134.9 532.2 136.0 532.1 137.1 532.0 138.2 531.9 139.3 531.8 140.4 531.7 141.5 531.6 142.6 531.6 143.7 531.5 144.8 531.5 145.9 531.5 147.0 531.5 148.1 531.6 149.2 531.7 150.4 531.9 151.5 532.1 152.6 532.4 153.7 532.6 154.8 532.8 155.9 533.1 157.0 533.3 158.1 533.4 159.2 533.6 160.3 533.7 161.4 533.8 162.5 533.8 163.6 533.9 164.7 534.0 165.8 534.0 166.9 534.1 168.0 534.0 169.2 533.6 170.3 533.0 171.4 532.1 172.5 531.3 173.6 530.4 174.7 529.7 175.8 529.3 176.9 529.1 178.0 528.9 179.1 528.7 180.2 528.6 181.3 528.4 182.4 528.3 183.5 528.2 184.6 528.1 185.7 528.0 186.8 527.9 187.9 527.8 189.1 527.7 190.2 527.7 191.3 527.7 192.4 527.6 193.5 527.6 194.6 527.6 195.7 527.6 196.8 527.6 197.9 527.6 199.0 527.6 200.1 527.6 201.2 527.5 202.3 527.3 203.4 527.1 204.5 526.9 205.6 526.6 206.7 526.3 207.9 526.0 209.0 525.7 210.1 525.4 211.2 525.2 212.3 524.9 213.4 524.7 214.5 524.6 215.6 524.5 216.7 524.5 217.8 524.4 218.9 524.4 220.0 524.4 221.1 524.3 222.2 524.3 223.3 524.3 224.4 524.3 225.5 524.2 226.7 524.2 227.8 524.2 228.9 524.2 230.0 524.2 231.1 524.1 232.2 524.1 233.3 524.1 234.4 524.1 235.5 524.0 236.6 524.0 237.7 523.9 238.8 523.9 239.9 523.9 241.0 523.8 242.1 523.8 243.2 523.7 244.3 523.7 245.5 523.6 246.6 523.5 247.7 523.4 248.8 523.3 249.9 522.8 251.0 521.5 252.1 519.7 253.2 518.1 254.3 517.1 255.4 516.9 256.5 516.8 257.6 516.7 258.7 516.6 259.8 516.5 260.9 516.5 262.0 516.4 263.1 516.3 264.3 516.3 265.4 516.2 266.5 516.1 267.6 516.0 268.7 516.0 269.8 515.9 270.9 515.9 272.0 515.8 273.1 515.8 274.2 515.7 275.3 515.6 276.4 515.6 277.5 515.5 278.6 515.4 279.7 515.3 280.8 515.2 281.9 515.1 283.1 515.0 284.2 514.8 285.3 514.6 286.4 514.2 287.5 513.7 288.6 513.0 289.7 512.3 290.8 511.7 291.9 510.8 293.0 510.0 294.1 509.4 295.2 509.3 296.3 509.3 297.4 509.3 298.5 509.4 299.6 509.5 300.7 509.5 301.8 509.6 303.0 509.7 304.1 509.8 305.2 509.8 306.3 509.9 307.4 510.0 308.5 510.0 309.6 510.1 310.7 510.1 311.8 510.1 312.9 510.0 314.0 509.9 315.1 509.8 316.2 509.7 317.3 509.5 318.4 509.4 319.5 509.2 320.6 509.0 321.8 508.7 322.9 508.5 324.0 508.2 325.1 507.9 326.2 507.3 327.3 506.7 328.4 506.0 329.5 505.4 330.6 504.7 331.7 503.9 332.8 503.1 333.9 502.4 335.0 502.1 336.1 501.9 337.2 501.7 338.3 501.6 339.4 501.5 340.6 501.4 341.7 501.3 342.8 501.3 343.9 501.2 345.0 501.1 346.1 501.1 347.2 501.0 348.3 500.9 349.4 500.8 350.5 500.7 351.6 500.6 352.7 500.5 353.8 500.4 354.9 500.3 356.0 500.2 357.1 500.1 358.2 499.9 359.4 499.7 360.5 499.4 361.6 499.0 362.7 498.4 363.8 497.8 364.9 497.0 366.0 496.3 367.1 495.5 368.2 494.7 369.3 493.9 370.4 493.2 371.5 492.6 372.6 492.1 373.7 491.8 374.8 491.6 375.9 491.4 377.0 491.3 378.2 491.1 379.3 491.0 380.4 490.9 381.5 490.8 382.6 490.7 383.7 490.6 384.8 490.5 385.9 490.5 387.0 490.4 388.1 490.3 389.2 490.3 390.3 490.2 391.4 490.1 392.5 490.0 393.6 489.9 394.7 489.8 395.8 489.7 396.9 489.5 398.1 489.4 399.2 489.2 400.3 489.0 401.4 488.7 402.5 488.1 403.6 487.3 404.7 486.4 405.8 485.4 406.9 484.5 408.0 483.6 409.1 483.0 410.2 482.7 411.3 482.6 412.4 482.5 413.5 482.4 414.6 482.3 415.7 482.3 416.9 482.2 418.0 482.1 419.1 482.1 420.2 482.0 421.3 482.0 422.4 482.0 423.5 481.9 424.6 481.9 425.7 481.8 426.8 481.8 427.9 481.7 429.0 481.6 430.1 481.6 431.2 481.5 432.3 481.5 433.4 481.4 434.5 481.4 435.7 481.3 436.8 481.2 437.9 481.2 439.0 481.1 440.1 481.0 441.2 481.0 442.3 480.9 443.4 480.8 444.5 480.6 445.6 480.5 446.7 480.3 447.8 479.9 448.9 479.3 450.0 478.5 451.1 477.7 452.2 477.1 453.3 476.8 454.5 476.8 455.6 476.8 456.7 476.8 457.8 476.8 458.9 476.9 460.0 476.9 461.1 477.0 462.2 477.0 463.3 477.1 464.4 477.1 465.5 477.2 466.6 477.3 467.7 477.3 468.8 477.4 469.9 477.5 471.0 477.5 472.1 477.6 473.3 477.7 474.4 477.7 475.5 477.8 476.6 477.9 477.7 477.9 478.8 478.0 479.9 478.0 481.0 478.0 482.1 478.0 483.2 478.1 484.3 478.1 485.4 477.8 486.5 477.2 487.6 476.3 488.7 475.3 489.8 474.4 490.9 473.6 492.1 473.2 493.2 473.1 494.3 473.0 495.4 472.9 496.5 472.8 497.6 472.7 498.7 472.7 499.8 472.6 500.9 472.6 502.0 472.5 503.1 472.5 504.2 472.4 505.3 472.3 506.4 472.2 507.5 472.1 508.6 472.0 509.7 471.8 510.8 471.7 512.0 471.6 513.1 471.4 514.2 471.3 515.3 471.1 516.4 471.0 517.5 470.8 518.6 470.7 519.7 470.5 520.8 470.4 521.9 470.2 523.0 470.0 524.1 469.9 525.2 469.7 526.3 469.5 527.4 469.3 528.5 469.1 529.6 468.8 530.8 468.6 531.9 468.4 533.0 468.1 534.1 467.9 535.2 467.7 536.3 467.6 537.4 467.5 538.5 467.4 539.6 467.3 540.7 467.3 541.8 467.3 542.9 467.2 544.0 467.2 545.1 467.2 546.2 467.1 547.3 467.1 548.4 467.1 549.6 467.0 550.7 467.0 551.8 467.0 552.9 466.9 554.0 466.9 555.1 466.9 556.2 466.8 557.3 466.7 558.4 466.6 559.5 466.4 560.6 466.2 561.7 465.9 562.8 465.5 563.9 465.1 565.0 464.7 566.1 464.3 567.2 463.9 568.4 463.6 569.5 463.3 570.6 463.0 571.7 462.9 572.8 462.7 573.9 462.6 575.0 462.5 576.1 462.5 577.2 462.4 578.3 462.3 579.4 462.2 580.5 462.2 581.6 462.1 582.7 462.1 583.8 462.0 584.9 462.0 586.0 461.9 587.2 461.9 588.3 461.8 589.4 461.8 590.5 461.8 591.6 461.7 592.7 461.7 593.8 461.6 594.9 461.6 596.0 461.5 597.1 461.5 598.2 461.4 599.3 461.3 600.4 461.3 601.5 461.2 602.6 461.1 603.7 461.0 604.8 460.9 605.9 460.8 607.1 460.6 608.2 460.3 609.3 460.0 610.4 459.6 611.5 459.3 612.6 459.1 613.7 459.0 614.8 459.0 615.9 459.2 617.0 459.4 618.1 459.7 619.2 460.0 620.3 460.3 621.4 460.5 622.5 460.7 623.6 460.8 624.7 460.8 625.9 460.8 627.0 460.8 628.1 460.8 629.2 460.8 630.3 460.8 631.4 460.8 632.5 460.8 633.6 460.8 634.7 460.8 635.8 460.8 636.9 460.8 638.0 460.8 639.1 460.8 640.2 460.8 641.3 460.8 642.4 460.8 643.5 460.8 644.7 460.6 645.8 460.3 646.9 459.8 648.0 459.2 649.1 458.5 650.2 457.8 651.3 457.1 652.4 456.5 653.5 456.1 654.6 455.9 655.7 455.9 656.8 455.9 657.9 455.9 659.0 456.0 660.1 456.0 661.2 456.1 662.3 456.2 663.5 456.2 664.6 456.3 665.7 456.4 666.8 456.5 667.9 456.6 669.0 456.7 670.1 456.9 671.2 457.0 672.3 457.1 673.4 457.2 674.5 457.3 675.6 457.3 676.7 457.4 677.8 457.5 678.9 457.6 680.0 457.6 681.1 457.6 682.3 457.7 683.4 457.7 684.5 457.7 685.6 457.7 686.7 457.7 687.8 457.7 688.9 457.7 690.0 457.7 691.1 457.7 692.2 457.7 693.3 457.7 694.4 457.7 695.5 457.7 696.6 457.7 697.7 457.7 698.8 457.7 699.9 457.7 701.1 457.7 702.2 457.7 703.3 457.7 704.4 457.7 705.5 457.7 706.6 457.7 707.7 457.7 708.8 457.8 709.9 459.7 711.0 462.2 712.1 463.6 713.2 464.1 714.3 464.5 715.4 464.9 716.5 465.2 717.6 465.4 718.7 465.6 719.8 465.8 721.0 465.9 722.1 465.9 723.2 465.9 724.3 465.9 725.4 465.8 726.5 465.7 727.6 465.5 728.7 465.3 729.8 465.1 730.9 464.9 732.0 464.6 733.1 464.4 734.2 464.2 735.3 464.0 736.4 463.9 737.5 463.7 738.6 463.6 739.8 463.6 740.9 463.6 742.0 463.7 743.1 463.7 744.2 463.8 745.3 463.9 746.4 464.0 747.5 464.2 748.6 464.3 749.7 464.4 750.8 464.5 751.9 464.7 753.0 464.7 754.1 464.8 755.2 464.9 756.3 464.9 757.4 464.9 758.6 464.7 759.7 464.4 760.8 464.1 761.9 463.6 763.0 463.2 764.1 462.7 765.2 462.2 766.3 461.7 767.4 461.2 768.5 460.8 769.6 460.4 770.7 460.2 771.8 460.0 772.9 460.0 774.0 460.4 775.1 460.9 776.2 461.6 777.4 462.1 778.5 462.3 779.6 462.3 780.7 462.3 781.8 462.3 782.9 462.3 784.0 462.2 785.1 462.2 786.2 462.2 787.3 462.1 788.4 462.1 789.5 462.0 790.6 462.0 791.7 461.9 792.8 461.8 793.9 461.8 795.0 461.7 796.2 461.6 797.3 461.5 798.4 461.4 799.5 461.4 800.6 461.3 801.7 461.1 802.8 460.9 803.9 460.7 805.0 460.4 806.1 460.1 807.2 459.8 808.3 459.4 809.4 459.0 810.5 458.7 811.6 458.3 812.7 458.0 813.8 457.7 814.9 457.5 816.1 457.3 817.2 457.2 818.3 457.1 819.4 457.1 820.5 457.0 821.6 457.0 822.7 456.9 823.8 456.9 824.9 456.9 826.0 456.9 827.1 456.9 828.2 456.8 829.3 456.8 830.4 456.8 831.5 456.8 832.6 456.7 833.7 456.7 834.9 456.7 836.0 456.6 837.1 456.5 838.2 456.5 839.3 456.3 840.4 455.4 841.5 453.8 842.6 452.3" stroke="#a090bd" stroke-width="3.2" stroke-linecap="round" stroke-linejoin="round" fill="none"/>
<path d="M26.5 548.3 27.6 547.6 28.7 546.9 29.8 546.2 30.9 545.5 32.0 544.9 33.1 544.4 34.2 543.9 35.3 543.6 36.5 543.3 37.6 543.0 38.7 542.8 39.8 542.6 40.9 542.4 42.0 542.3 43.1 542.4 44.2 542.8 45.3 543.2 46.4 543.4 47.5 543.1 48.6 542.5 49.7 541.6 50.8 540.6 51.9 539.6 53.0 538.8 54.1 538.3 55.3 538.3 56.4 538.8 57.5 539.5 58.6 539.7 59.7 539.0 60.8 537.8 61.9 536.8 63.0 536.5 64.1 536.3 65.2 536.2 66.3 536.0 67.4 535.9 68.5 535.8 69.6 535.6 70.7 535.3 71.8 534.9 72.9 534.4 74.1 534.0 75.2 533.4 76.3 532.9 77.4 532.5 78.5 532.0 79.6 531.6 80.7 531.3 81.8 530.9 82.9 530.4 84.0 529.9 85.1 529.2 86.2 528.5 87.3 527.7 88.4 527.2 89.5 526.7 90.6 526.3 91.7 525.9 92.8 525.6 94.0 525.3 95.1 525.1 96.2 525.0 97.3 525.2 98.4 525.5 99.5 525.9 100.6 526.3 101.7 526.6 102.8 526.6 103.9 526.5 105.0 526.3 106.1 526.1 107.2 525.8 108.3 525.5 109.4 525.1 110.5 524.8 111.6 524.4 112.8 524.0 113.9 523.7 115.0 523.3 116.1 523.0 117.2 522.6 118.3 522.1 119.4 521.7 120.5 521.2 121.6 520.7 122.7 520.2 123.8 519.7 124.9 519.2 126.0 518.8 127.1 518.3 128.2 518.0 129.3 517.6 130.4 517.4 131.6 517.2 132.7 517.1 133.8 517.0 134.9 517.2 136.0 517.4 137.1 517.7 138.2 518.1 139.3 518.3 140.4 518.5 141.5 518.6 142.6 518.5 143.7 518.4 144.8 518.3 145.9 518.1 147.0 517.8 148.1 517.6 149.2 517.3 150.4 517.0 151.5 516.7 152.6 516.5 153.7 516.2 154.8 515.9 155.9 515.7 157.0 515.5 158.1 515.3 159.2 515.2 160.3 515.0 161.4 514.8 162.5 514.6 163.6 514.5 164.7 514.3 165.8 514.2 166.9 514.0 168.0 513.9 169.2 513.8 170.3 513.6 171.4 513.5 172.5 513.5 173.6 513.4 174.7 513.3 175.8 513.3 176.9 513.2 178.0 513.2 179.1 513.2 180.2 513.1 181.3 513.1 182.4 513.0 183.5 513.0 184.6 512.9 185.7 512.8 186.8 512.6 187.9 512.3 189.1 512.1 190.2 511.8 191.3 511.5 192.4 511.2 193.5 510.9 194.6 510.6 195.7 510.4 196.8 510.1 197.9 509.8 199.0 509.6 200.1 509.3 201.2 509.0 202.3 508.7 203.4 508.5 204.5 508.2 205.6 508.0 206.7 507.8 207.9 507.5 209.0 507.3 210.1 507.1 211.2 506.8 212.3 506.6 213.4 506.4 214.5 506.2 215.6 506.0 216.7 505.7 217.8 505.5 218.9 505.3 220.0 505.1 221.1 504.9 222.2 504.6 223.3 504.4 224.4 504.2 225.5 504.0 226.7 503.7 227.8 503.5 228.9 503.2 230.0 503.0 231.1 502.7 232.2 502.5 233.3 502.2 234.4 501.9 235.5 501.6 236.6 501.4 237.7 501.1 238.8 500.8 239.9 500.5 241.0 500.2 242.1 500.0 243.2 499.7 244.3 499.4 245.5 499.1 246.6 498.8 247.7 498.6 248.8 498.3 249.9 498.0 251.0 497.8 252.1 497.5 253.2 497.3 254.3 497.1 255.4 496.8 256.5 496.6 257.6 496.4 258.7 496.1 259.8 495.9 260.9 495.7 262.0 495.4 263.1 495.2 264.3 495.0 265.4 494.8 266.5 494.6 267.6 494.4 268.7 494.1 269.8 493.9 270.9 493.7 272.0 493.5 273.1 493.3 274.2 493.1 275.3 492.8 276.4 492.6 277.5 492.4 278.6 492.2 279.7 492.0 280.8 491.7 281.9 491.5 283.1 491.3 284.2 491.1 285.3 490.9 286.4 490.7 287.5 490.4 288.6 490.2 289.7 490.0 290.8 489.8 291.9 489.6 293.0 489.3 294.1 489.1 295.2 488.9 296.3 488.7 297.4 488.4 298.5 488.2 299.6 488.0 300.7 487.7 301.8 487.5 303.0 487.2 304.1 487.0 305.2 486.7 306.3 486.4 307.4 486.2 308.5 485.9 309.6 485.6 310.7 485.3 311.8 485.1 312.9 484.8 314.0 484.5 315.1 484.2 316.2 483.9 317.3 483.6 318.4 483.4 319.5 483.1 320.6 482.8 321.8 482.5 322.9 482.2 324.0 482.0 325.1 481.7 326.2 481.4 327.3 481.1 328.4 480.9 329.5 480.6 330.6 480.3 331.7 480.1 332.8 479.8 333.9 479.6 335.0 479.3 336.1 479.0 337.2 478.7 338.3 478.5 339.4 478.2 340.6 477.9 341.7 477.6 342.8 477.3 343.9 477.0 345.0 476.7 346.1 476.3 347.2 476.0 348.3 475.6 349.4 475.2 350.5 474.7 351.6 474.2 352.7 473.5 353.8 472.8 354.9 472.1 356.0 471.3 357.1 470.5 358.2 469.8 359.4 469.1 360.5 468.4 361.6 467.9 362.7 467.4 363.8 467.0 364.9 466.8 366.0 466.6 367.1 466.4 368.2 466.2 369.3 466.1 370.4 465.9 371.5 465.8 372.6 465.6 373.7 465.5 374.8 465.4 375.9 465.2 377.0 465.1 378.2 464.9 379.3 464.8 380.4 464.7 381.5 464.6 382.6 464.5 383.7 464.4 384.8 464.3 385.9 464.2 387.0 464.0 388.1 463.7 389.2 463.5 390.3 462.4 391.4 459.1 392.5 454.5 393.6 449.8 394.7 446.4 395.8 445.2 396.9 444.8 398.1 444.5 399.2 444.3 400.3 444.1 401.4 443.9 402.5 443.8 403.6 443.7 404.7 443.5 405.8 443.4 406.9 443.2 408.0 442.9 409.1 442.6 410.2 442.3 411.3 441.9 412.4 441.5 413.5 441.0 414.6 440.6 415.7 440.1 416.9 439.7 418.0 439.3 419.1 438.9 420.2 438.5 421.3 438.3 422.4 438.0 423.5 437.8 424.6 437.7 425.7 437.5 426.8 437.4 427.9 437.3 429.0 437.2 430.1 437.1 431.2 437.0 432.3 436.9 433.4 436.8 434.5 436.6 435.7 436.5 436.8 436.3 437.9 436.0 439.0 435.7 440.1 435.3 441.2 434.9 442.3 434.4 443.4 433.9 444.5 433.5 445.6 433.0 446.7 432.7 447.8 432.3 448.9 432.1 450.0 431.9 451.1 431.8 452.2 431.7 453.3 431.6 454.5 431.4 455.6 431.3 456.7 431.3 457.8 431.2 458.9 431.0 460.0 430.9 461.1 430.8 462.2 430.7 463.3 430.5 464.4 430.4 465.5 430.2 466.6 430.0 467.7 429.9 468.8 429.7 469.9 429.5 471.0 429.4 472.1 429.2 473.3 429.1 474.4 428.9 475.5 428.8 476.6 428.6 477.7 428.5 478.8 428.4 479.9 428.3 481.0 428.2 482.1 428.1 483.2 428.0 484.3 427.9 485.4 427.8 486.5 427.6 487.6 427.5 488.7 427.4 489.8 427.2 490.9 427.1 492.1 426.9 493.2 426.7 494.3 426.4 495.4 426.2 496.5 426.0 497.6 425.7 498.7 425.5 499.8 425.2 500.9 424.9 502.0 424.7 503.1 424.4 504.2 424.2 505.3 424.0 506.4 423.7 507.5 423.5 508.6 423.3 509.7 423.0 510.8 422.8 512.0 422.6 513.1 422.3 514.2 422.1 515.3 421.9 516.4 421.7 517.5 421.4 518.6 421.2 519.7 421.0 520.8 420.7 521.9 420.5 523.0 420.3 524.1 420.1 525.2 419.9 526.3 419.7 527.4 419.5 528.5 419.3 529.6 419.1 530.8 418.9 531.9 418.7 533.0 418.5 534.1 418.4 535.2 418.2 536.3 418.0 537.4 417.9 538.5 417.7 539.6 417.5 540.7 417.4 541.8 417.2 542.9 417.1 544.0 416.9 545.1 416.7 546.2 416.6 547.3 416.4 548.4 416.3 549.6 416.1 550.7 415.9 551.8 415.8 552.9 415.6 554.0 415.4 555.1 415.2 556.2 415.1 557.3 414.9 558.4 414.7 559.5 414.5 560.6 414.3 561.7 414.1 562.8 413.8 563.9 413.6 565.0 413.4 566.1 413.2 567.2 412.9 568.4 412.7 569.5 412.5 570.6 412.2 571.7 412.0 572.8 411.8 573.9 411.5 575.0 411.3 576.1 411.1 577.2 410.8 578.3 410.6 579.4 410.4 580.5 410.2 581.6 410.0 582.7 409.8 583.8 409.6 584.9 409.4 586.0 409.2 587.2 409.0 588.3 408.8 589.4 408.7 590.5 408.5 591.6 408.4 592.7 408.2 593.8 408.1 594.9 407.9 596.0 407.8 597.1 407.7 598.2 407.5 599.3 407.4 600.4 407.3 601.5 407.1 602.6 407.0 603.7 406.8 604.8 406.7 605.9 406.6 607.1 406.4 608.2 406.3 609.3 406.1 610.4 406.0 611.5 405.8 612.6 405.6 613.7 405.5 614.8 405.3 615.9 405.1 617.0 404.9 618.1 404.7 619.2 404.4 620.3 404.2 621.4 403.9 622.5 403.7 623.6 403.4 624.7 403.1 625.9 402.8 627.0 402.6 628.1 402.3 629.2 402.0 630.3 401.7 631.4 401.4 632.5 401.2 633.6 400.9 634.7 400.6 635.8 400.4 636.9 400.2 638.0 399.9 639.1 399.7 640.2 399.5 641.3 399.4 642.4 399.2 643.5 399.1 644.7 399.0 645.8 398.9 646.9 398.8 648.0 398.7 649.1 398.6 650.2 398.5 651.3 398.5 652.4 398.4 653.5 398.3 654.6 398.3 655.7 398.2 656.8 398.1 657.9 398.0 659.0 397.9 660.1 397.8 661.2 397.6 662.3 397.5 663.5 397.3 664.6 397.1 665.7 396.9 666.8 396.6 667.9 396.4 669.0 396.2 670.1 395.9 671.2 395.6 672.3 395.4 673.4 395.1 674.5 394.8 675.6 394.6 676.7 394.3 677.8 394.0 678.9 393.8 680.0 393.5 681.1 393.3 682.3 393.1 683.4 392.8 684.5 392.6 685.6 392.4 686.7 392.2 687.8 392.0 688.9 391.8 690.0 391.7 691.1 391.5 692.2 391.3 693.3 391.1 694.4 390.9 695.5 390.7 696.6 390.5 697.7 390.3 698.8 390.0 699.9 389.8 701.1 389.5 702.2 389.3 703.3 389.0 704.4 388.7 705.5 388.3 706.6 387.9 707.7 387.4 708.8 386.9 709.9 386.4 711.0 385.9 712.1 385.4 713.2 384.9 714.3 384.5 715.4 384.2 716.5 383.9 717.6 383.6 718.7 383.3 719.8 383.1 721.0 382.8 722.1 382.6 723.2 382.4 724.3 382.1 725.4 381.9 726.5 381.7 727.6 381.5 728.7 381.3 729.8 381.1 730.9 380.8 732.0 380.6 733.1 380.4 734.2 380.1 735.3 379.8 736.4 379.5 737.5 379.2 738.6 378.9 739.8 378.6 740.9 378.3 742.0 377.9 743.1 377.6 744.2 377.2 745.3 376.9 746.4 376.6 747.5 376.2 748.6 375.9 749.7 375.6 750.8 375.3 751.9 375.1 753.0 374.9 754.1 374.6 755.2 374.5 756.3 374.3 757.4 374.2 758.6 374.0 759.7 373.9 760.8 373.8 761.9 373.7 763.0 373.6 764.1 373.5 765.2 373.4 766.3 373.2 767.4 373.1 768.5 372.9 769.6 372.8 770.7 372.6 771.8 372.4 772.9 372.2 774.0 371.9 775.1 371.7 776.2 371.4 777.4 371.1 778.5 370.8 779.6 370.5 780.7 370.2 781.8 369.9 782.9 369.6 784.0 369.3 785.1 369.0 786.2 368.7 787.3 368.4 788.4 368.1 789.5 367.8 790.6 367.5 791.7 367.1 792.8 366.8 793.9 366.5 795.0 366.2 796.2 365.9 797.3 365.5 798.4 365.2 799.5 364.9 800.6 364.6 801.7 364.3 802.8 364.0 803.9 363.7 805.0 363.5 806.1 363.2 807.2 362.9 808.3 362.7 809.4 362.5 810.5 362.3 811.6 362.1 812.7 362.0 813.8 361.8 814.9 361.6 816.1 361.5 817.2 361.3 818.3 361.1 819.4 360.9 820.5 360.6 821.6 360.3 822.7 360.0 823.8 359.4 824.9 358.6 826.0 357.7 827.1 356.9 828.2 356.0 829.3 355.4 830.4 355.0 831.5 355.0 832.6 355.2 833.7 355.5 834.9 355.9 836.0 356.2 837.1 356.4 838.2 356.5 839.3 356.0 840.4 355.2 841.5 354.2 842.6 353.4" stroke="#8cc2d7" stroke-width="3.2" stroke-linecap="round" stroke-linejoin="round" fill="none"/>
<path d="M26.5 550.1 27.6 550.1 28.7 550.1 29.8 550.1 30.9 550.1 32.0 550.1 33.1 550.1 34.2 550.1 35.3 550.1 36.5 550.1 37.6 550.1 38.7 550.0 39.8 550.0 40.9 550.0 42.0 549.9 43.1 549.9 44.2 549.8 45.3 549.7 46.4 549.6 47.5 549.0 48.6 547.8 49.7 546.3 50.8 544.8 51.9 543.5 53.0 542.3 54.1 541.2 55.3 540.5 56.4 540.0 57.5 539.6 58.6 539.2 59.7 539.0 60.8 539.0 61.9 539.0 63.0 539.0 64.1 539.0 65.2 539.0 66.3 539.0 67.4 539.0 68.5 539.0 69.6 538.9 70.7 538.9 71.8 538.9 72.9 538.9 74.1 538.9 75.2 538.8 76.3 538.8 77.4 538.7 78.5 538.7 79.6 538.7 80.7 538.6 81.8 538.6 82.9 538.5 84.0 538.4 85.1 538.2 86.2 538.1 87.3 537.9 88.4 537.6 89.5 535.7 90.6 532.5 91.7 529.3 92.8 526.1 94.0 524.1 95.1 523.5 96.2 523.0 97.3 522.7 98.4 522.4 99.5 522.3 100.6 522.2 101.7 522.1 102.8 522.1 103.9 522.0 105.0 522.0 106.1 521.9 107.2 521.9 108.3 521.8 109.4 521.8 110.5 521.7 111.6 521.6 112.8 521.5 113.9 521.4 115.0 521.3 116.1 521.2 117.2 521.0 118.3 520.8 119.4 520.6 120.5 520.3 121.6 520.0 122.7 519.6 123.8 519.2 124.9 518.7 126.0 517.8 127.1 516.8 128.2 515.5 129.3 514.0 130.4 512.3 131.6 509.5 132.7 506.7 133.8 505.1 134.9 503.8 136.0 502.8 137.1 502.1 138.2 501.8 139.3 501.7 140.4 501.7 141.5 501.6 142.6 501.6 143.7 501.5 144.8 501.4 145.9 501.3 147.0 501.1 148.1 501.0 149.2 500.9 150.4 500.7 151.5 500.6 152.6 500.5 153.7 500.4 154.8 500.3 155.9 500.2 157.0 500.1 158.1 500.0 159.2 499.9 160.3 499.7 161.4 499.5 162.5 499.3 163.6 499.0 164.7 498.6 165.8 497.9 166.9 496.8 168.0 495.3 169.2 492.1 170.3 484.3 171.4 480.6 172.5 478.3 173.6 476.6 174.7 475.0 175.8 473.5 176.9 472.5 178.0 472.1 179.1 472.0 180.2 472.0 181.3 472.0 182.4 472.0 183.5 471.9 184.6 471.9 185.7 471.7 186.8 471.5 187.9 471.2 189.1 470.8 190.2 470.4 191.3 469.9 192.4 469.5 193.5 469.1 194.6 468.9 195.7 468.7 196.8 468.5 197.9 468.3 199.0 468.2 200.1 468.0 201.2 467.8 202.3 467.6 203.4 467.3 204.5 466.9 205.6 466.5 206.7 466.0 207.9 464.4 209.0 461.3 210.1 457.4 211.2 453.7 212.3 450.8 213.4 447.7 214.5 445.1 215.6 443.4 216.7 443.1 217.8 442.9 218.9 442.8 220.0 442.7 221.1 442.6 222.2 442.6 223.3 442.5 224.4 442.5 225.5 442.4 226.7 442.4 227.8 442.4 228.9 442.4 230.0 442.4 231.1 442.3 232.2 442.3 233.3 442.3 234.4 442.3 235.5 442.3 236.6 442.3 237.7 442.3 238.8 442.2 239.9 442.2 241.0 442.2 242.1 442.0 243.2 441.5 244.3 441.0 245.5 440.2 246.6 439.3 247.7 438.2 248.8 436.1 249.9 432.0 251.0 427.3 252.1 423.4 253.2 421.5 254.3 420.1 255.4 419.0 256.5 418.5 257.6 418.3 258.7 418.1 259.8 417.9 260.9 417.8 262.0 417.7 263.1 417.6 264.3 417.6 265.4 417.5 266.5 417.4 267.6 417.4 268.7 417.4 269.8 417.3 270.9 417.3 272.0 417.3 273.1 417.3 274.2 417.2 275.3 417.2 276.4 417.2 277.5 417.1 278.6 417.0 279.7 416.8 280.8 416.6 281.9 416.3 283.1 416.0 284.2 415.6 285.3 414.4 286.4 412.2 287.5 409.7 288.6 407.1 289.7 404.7 290.8 401.9 291.9 399.1 293.0 396.7 294.1 395.1 295.2 394.1 296.3 393.1 297.4 392.3 298.5 391.7 299.6 391.4 300.7 391.3 301.8 391.2 303.0 391.1 304.1 391.0 305.2 390.9 306.3 390.9 307.4 390.8 308.5 390.8 309.6 390.8 310.7 390.8 311.8 390.8 312.9 390.7 314.0 390.7 315.1 390.7 316.2 390.7 317.3 390.6 318.4 390.6 319.5 390.5 320.6 390.4 321.8 390.3 322.9 390.2 324.0 390.1 325.1 389.4 326.2 387.0 327.3 383.7 328.4 380.7 329.5 377.3 330.6 373.6 331.7 370.7 332.8 369.3 333.9 368.3 335.0 367.5 336.1 366.8 337.2 366.3 338.3 366.1 339.4 366.0 340.6 366.0 341.7 366.0 342.8 365.9 343.9 365.9 345.0 365.9 346.1 365.9 347.2 365.9 348.3 365.9 349.4 365.8 350.5 365.8 351.6 365.8 352.7 365.7 353.8 365.6 354.9 365.4 356.0 365.2 357.1 365.0 358.2 364.7 359.4 364.4 360.5 364.0 361.6 363.6 362.7 363.1 363.8 362.6 364.9 361.4 366.0 358.1 367.1 353.8 368.2 349.3 369.3 345.6 370.4 343.7 371.5 342.3 372.6 341.1 373.7 340.3 374.8 339.8 375.9 339.7 377.0 339.6 378.2 339.6 379.3 339.5 380.4 339.5 381.5 339.4 382.6 339.4 383.7 339.4 384.8 339.4 385.9 339.3 387.0 339.3 388.1 339.3 389.2 339.3 390.3 339.2 391.4 339.2 392.5 339.2 393.6 339.2 394.7 339.1 395.8 339.1 396.9 339.1 398.1 339.1 399.2 339.1 400.3 339.0 401.4 339.0 402.5 338.7 403.6 338.2 404.7 337.3 405.8 336.2 406.9 334.3 408.0 330.0 409.1 324.4 410.2 319.0 411.3 315.4 412.4 313.8 413.5 312.3 414.6 311.2 415.7 310.5 416.9 310.3 418.0 310.4 419.1 310.5 420.2 310.8 421.3 311.0 422.4 311.3 423.5 311.6 424.6 311.9 425.7 312.1 426.8 312.3 427.9 312.4 429.0 312.4 430.1 312.3 431.2 312.3 432.3 312.3 433.4 312.2 434.5 312.1 435.7 312.0 436.8 311.9 437.9 311.8 439.0 311.6 440.1 311.4 441.2 311.2 442.3 311.0 443.4 310.4 444.5 308.0 445.6 304.3 446.7 300.6 447.8 297.9 448.9 296.0 450.0 294.1 451.1 292.5 452.2 291.4 453.3 290.9 454.5 290.8 455.6 290.8 456.7 290.7 457.8 290.6 458.9 290.6 460.0 290.5 461.1 290.5 462.2 290.5 463.3 290.5 464.4 290.4 465.5 290.4 466.6 290.4 467.7 290.4 468.8 290.4 469.9 290.3 471.0 290.3 472.1 290.3 473.3 290.3 474.4 290.3 475.5 290.3 476.6 290.2 477.7 290.2 478.8 290.2 479.9 290.1 481.0 289.7 482.1 289.0 483.2 288.1 484.3 287.0 485.4 285.5 486.5 281.6 487.6 275.9 488.7 270.3 489.8 266.8 490.9 265.0 492.1 263.5 493.2 262.2 494.3 261.3 495.4 260.8 496.5 260.7 497.6 260.8 498.7 260.8 499.8 260.9 500.9 260.9 502.0 261.0 503.1 261.0 504.2 261.1 505.3 261.2 506.4 261.3 507.5 261.3 508.6 261.4 509.7 261.4 510.8 261.5 512.0 261.5 513.1 261.5 514.2 261.5 515.3 261.5 516.4 261.5 517.5 261.4 518.6 261.4 519.7 261.3 520.8 261.2 521.9 260.6 523.0 259.5 524.1 258.0 525.2 256.3 526.3 253.4 527.4 249.5 528.5 245.8 529.6 243.3 530.8 241.7 531.9 240.4 533.0 239.4 534.1 238.7 535.2 238.3 536.3 238.0 537.4 237.8 538.5 237.5 539.6 237.3 540.7 237.1 541.8 237.0 542.9 236.9 544.0 236.8 545.1 236.7 546.2 236.7 547.3 236.7 548.4 236.7 549.6 236.7 550.7 236.6 551.8 236.6 552.9 236.6 554.0 236.6 555.1 236.6 556.2 236.6 557.3 236.6 558.4 236.6 559.5 236.5 560.6 236.5 561.7 236.4 562.8 235.7 563.9 234.5 565.0 233.1 566.1 231.5 567.2 228.7 568.4 225.2 569.5 222.0 570.6 220.2 571.7 219.2 572.8 218.3 573.9 217.6 575.0 217.0 576.1 216.6 577.2 216.3 578.3 216.2 579.4 216.0 580.5 215.9 581.6 215.8 582.7 215.7 583.8 215.7 584.9 215.6 586.0 215.6 587.2 215.5 588.3 215.5 589.4 215.4 590.5 215.3 591.6 215.2 592.7 215.1 593.8 215.0 594.9 214.9 596.0 214.7 597.1 214.4 598.2 214.1 599.3 213.6 600.4 213.1 601.5 212.4 602.6 211.7 603.7 210.8 604.8 209.8 605.9 207.7 607.1 204.9 608.2 202.3 609.3 200.7 610.4 199.5 611.5 198.4 612.6 197.5 613.7 196.7 614.8 196.2 615.9 195.9 617.0 195.8 618.1 195.6 619.2 195.5 620.3 195.4 621.4 195.3 622.5 195.2 623.6 195.2 624.7 195.1 625.9 195.1 627.0 195.0 628.1 195.0 629.2 194.9 630.3 194.8 631.4 194.7 632.5 194.6 633.6 194.5 634.7 194.3 635.8 194.1 636.9 193.8 638.0 193.5 639.1 193.1 640.2 192.7 641.3 192.1 642.4 191.5 643.5 190.7 644.7 188.9 645.8 186.3 646.9 183.4 648.0 180.9 649.1 179.2 650.2 177.8 651.3 176.5 652.4 175.4 653.5 174.7 654.6 174.5 655.7 174.6 656.8 174.6 657.9 174.6 659.0 174.6 660.1 174.7 661.2 174.7 662.3 174.7 663.5 174.8 664.6 174.8 665.7 174.9 666.8 174.9 667.9 174.9 669.0 175.0 670.1 175.0 671.2 175.0 672.3 175.1 673.4 175.1 674.5 175.1 675.6 175.0 676.7 174.9 677.8 174.8 678.9 174.7 680.0 174.5 681.1 174.3 682.3 174.0 683.4 173.7 684.5 173.4 685.6 172.5 686.7 171.0 687.8 169.2 688.9 167.3 690.0 165.7 691.1 164.1 692.2 162.4 693.3 161.0 694.4 160.4 695.5 160.4 696.6 160.4 697.7 160.6 698.8 160.7 699.9 160.9 701.1 161.1 702.2 161.3 703.3 161.5 704.4 161.6 705.5 161.8 706.6 162.0 707.7 162.1 708.8 162.3 709.9 162.5 711.0 162.7 712.1 162.9 713.2 163.1 714.3 163.2 715.4 163.3 716.5 163.4 717.6 163.4 718.7 163.3 719.8 162.9 721.0 162.3 722.1 161.5 723.2 160.6 724.3 159.7 725.4 158.3 726.5 156.2 727.6 153.8 728.7 151.5 729.8 149.8 730.9 148.8 732.0 148.1 733.1 147.4 734.2 146.9 735.3 146.5 736.4 146.4 737.5 146.5 738.6 146.6 739.8 146.9 740.9 147.2 742.0 147.6 743.1 147.9 744.2 148.3 745.3 148.7 746.4 149.1 747.5 149.6 748.6 150.2 749.7 150.8 750.8 151.4 751.9 152.0 753.0 152.4 754.1 152.6 755.2 152.6 756.3 152.5 757.4 152.3 758.6 152.1 759.7 151.7 760.8 151.3 761.9 150.7 763.0 149.1 764.1 146.8 765.2 144.2 766.3 142.0 767.4 140.1 768.5 138.1 769.6 136.2 770.7 134.6 771.8 133.1 772.9 131.5 774.0 130.1 775.1 128.8 776.2 127.8 777.4 127.3 778.5 127.3 779.6 127.4 780.7 127.5 781.8 127.7 782.9 127.9 784.0 128.0 785.1 128.2 786.2 128.4 787.3 128.5 788.4 128.6 789.5 128.6 790.6 128.5 791.7 128.4 792.8 128.2 793.9 127.9 795.0 127.7 796.2 127.5 797.3 127.4 798.4 127.3 799.5 127.4 800.6 127.7 801.7 128.1 802.8 128.4 803.9 128.6 805.0 127.9 806.1 126.0 807.2 123.4 808.3 120.7 809.4 118.6 810.5 117.5 811.6 116.6 812.7 115.7 813.8 115.0 814.9 114.5 816.1 114.2 817.2 114.2 818.3 114.3 819.4 114.4 820.5 114.7 821.6 114.9 822.7 115.2 823.8 115.4 824.9 115.6 826.0 115.7 827.1 115.7 828.2 115.7 829.3 115.7 830.4 115.7 831.5 115.7 832.6 115.7 833.7 115.7 834.9 115.7 836.0 115.7 837.1 115.7 838.2 115.7 839.3 115.3 840.4 114.7 841.5 114.0 842.6 113.4" stroke="#ff0000" stroke-width="3.2" stroke-dasharray="7 5" stroke-dashoffset="7.85" stroke-linecap="round" stroke-linejoin="round" fill="none"/></g>
<rect x="30" y="597.5" width="167" height="23.5" fill="#fff"/>
<text x="41.8" y="613.7" font-size="12.5" font-weight="bold" fill="#7f7f7f" textLength="145.6" lengthAdjust="spacingAndGlyphs">Not seasonally adjusted</text>
<rect x="36.5" y="94.5" width="232" height="229" fill="#000" opacity="0.45" filter="url(#sh)"/>
<rect x="33.5" y="91.5" width="232" height="228.5" fill="#fff" stroke="#000" stroke-width="1.6"/>
<path d="M46.5 103.6H80.5" stroke="#79973f" stroke-width="3.2" stroke-linecap="round" fill="none"/>
<text x="84.6" y="108.3" font-size="13.6" fill="#000" textLength="102.7" lengthAdjust="spacingAndGlyphs">Food &amp; Beverage</text>
<path d="M46.5 129.2H80.5" stroke="#3489a6" stroke-width="3.2" stroke-linecap="round" fill="none"/>
<text x="84.6" y="133.8" font-size="13.6" fill="#000" textLength="48.0" lengthAdjust="spacingAndGlyphs">Housing</text>
<path d="M46.5 154.8H80.5" stroke="#e07a30" stroke-width="3.2" stroke-linecap="round" fill="none"/>
<text x="84.6" y="159.2" font-size="13.6" fill="#000" textLength="46.699999999999996" lengthAdjust="spacingAndGlyphs">Apparel</text>
<path d="M46.5 180.4H80.5" stroke="#0cb04f" stroke-width="3.2" stroke-linecap="round" fill="none"/>
<text x="84.6" y="184.6" font-size="13.6" fill="#000" textLength="88.5" lengthAdjust="spacingAndGlyphs">Transportation</text>
<path d="M46.5 206.0H80.5" stroke="#c00000" stroke-width="3.2" stroke-linecap="round" fill="none"/>
<text x="84.6" y="210.1" font-size="13.6" fill="#000" textLength="78.7" lengthAdjust="spacingAndGlyphs">Medical Care</text>
<path d="M46.5 231.6H80.5" stroke="#a9c88c" stroke-width="3.2" stroke-linecap="round" fill="none"/>
<text x="84.6" y="235.6" font-size="13.6" fill="#000" textLength="64.7" lengthAdjust="spacingAndGlyphs">Recreation</text>
<path d="M46.5 257.2H80.5" stroke="#a090bd" stroke-width="3.2" stroke-linecap="round" fill="none"/>
<text x="84.6" y="261.0" font-size="13.6" fill="#000" textLength="170.60000000000002" lengthAdjust="spacingAndGlyphs">Education &amp; Communication</text>
<path d="M46.5 282.8H80.5" stroke="#8cc2d7" stroke-width="3.2" stroke-linecap="round" fill="none"/>
<text x="84.6" y="286.4" font-size="13.6" fill="#000" textLength="141.70000000000002" lengthAdjust="spacingAndGlyphs">Other Goods &amp; Services</text>
<path d="M47 308.4H78" stroke="#ff0000" stroke-width="3.2" stroke-dasharray="6.5 5.5" stroke-linecap="round" fill="none"/>
<text x="84.6" y="311.9" font-size="13.6" fill="#000" textLength="133.0" lengthAdjust="spacingAndGlyphs">College Tuition &amp; Fees</text>
<text x="250" y="32.9" font-size="21.3" font-weight="bold" fill="#000" textLength="410" lengthAdjust="spacingAndGlyphs">Breaking Down the Consumer Price Index</text>
<text x="276" y="59.3" font-size="18" font-weight="bold" xml:space="preserve" fill="#000" textLength="356" lengthAdjust="spacingAndGlyphs">College Tuition  - The Inflation Nightmare</text>
<text x="900.8" y="18" font-size="12.5" font-weight="bold" fill="#1f3c88" text-anchor="end" xml:space="preserve" textLength="155.5" lengthAdjust="spacingAndGlyphs">advisorperspectives.com</text>
<text x="900.8" y="32.4" font-size="12.5" font-weight="bold" fill="#1f3c88" text-anchor="end" xml:space="preserve">August  2020</text>
<text x="900.8" y="47.4" font-size="12.5" font-weight="bold" fill="#1f3c88" text-anchor="end" xml:space="preserve" textLength="112" lengthAdjust="spacingAndGlyphs">Data through July</text>
<g transform="translate(21.1,21.1)">
<circle r="9.2" fill="none" stroke="#b8974e" stroke-width="1.4"/>
<path d="M0 -10L1.5 -2.6L10 0L1.5 2.6L0 10L-1.5 2.6L-10 0L-1.5 -2.6Z" fill="#7d1a22"/>
<path d="M-5.3 -5.3L0 -2.2L5.3 -5.3L2.2 0L5.3 5.3L0 2.2L-5.3 5.3L-2.2 0Z" fill="#7d1a22"/>
<circle r="3.3" fill="#7d1a22"/>
</g>
<text x="33.2" y="20.7" font-size="13.2" font-weight="bold" fill="#7d1a22" textLength="61.8" lengthAdjust="spacingAndGlyphs">ADVISOR</text>
<text x="33" y="31.4" font-size="12.6" fill="#b09450" textLength="94" lengthAdjust="spacingAndGlyphs">PERSPECTIVES</text>
</svg></body></html>
